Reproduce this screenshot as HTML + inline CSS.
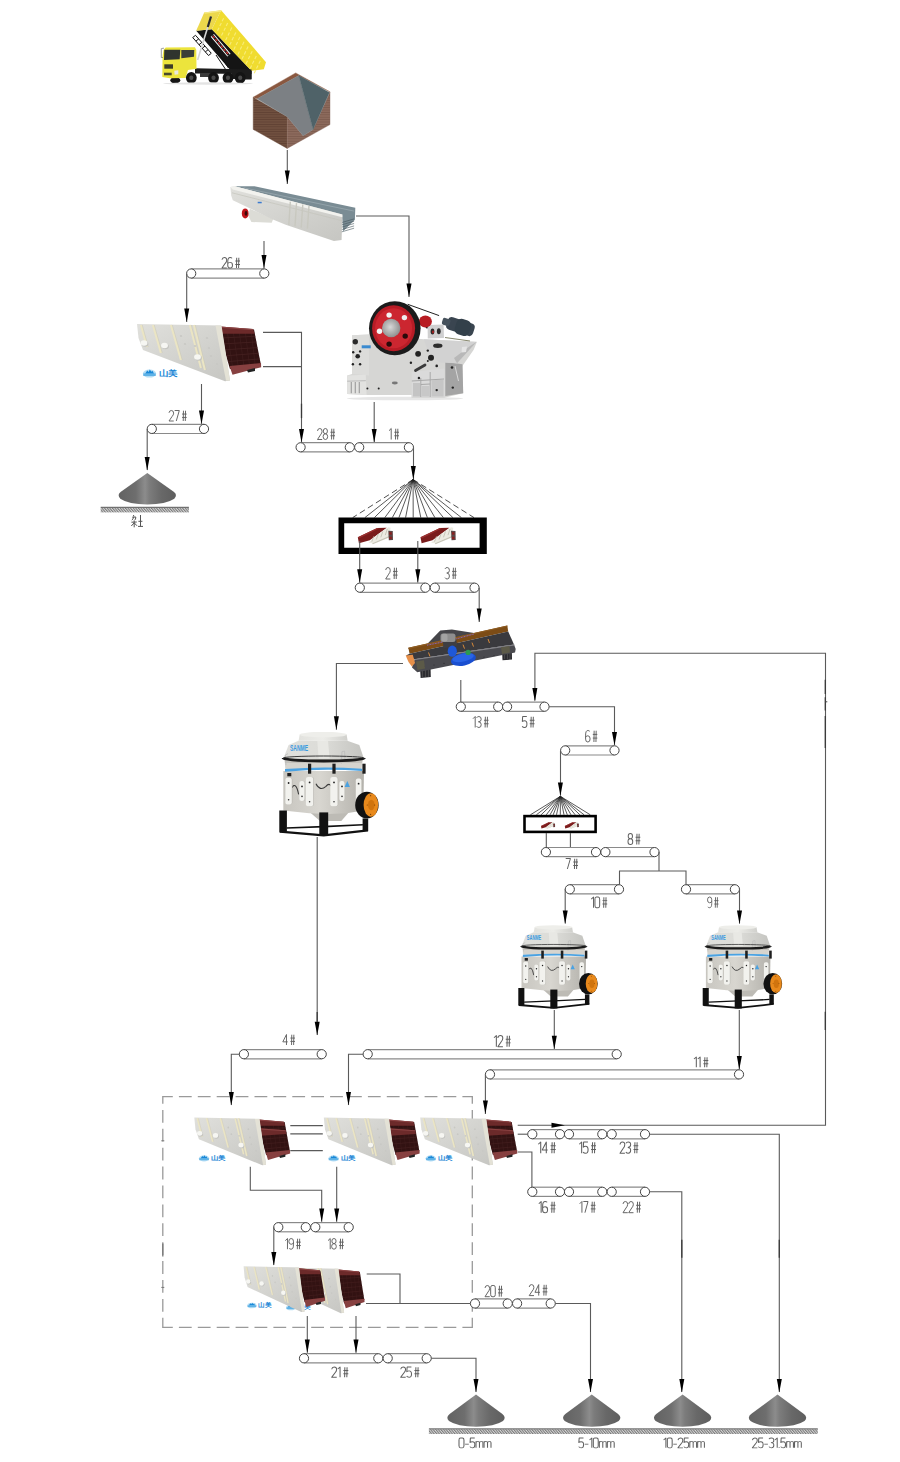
<!DOCTYPE html>
<html><head><meta charset="utf-8"><style>
html,body{margin:0;padding:0;background:#fff;}
body{width:900px;height:1462px;overflow:hidden;}
svg{display:block;font-family:"Liberation Sans",sans-serif;}
</style></head><body>
<svg width="900" height="1462" viewBox="0 0 900 1462">
<g stroke="#9a9a9a" stroke-width="1.3" stroke-dasharray="12.8,6.1" fill="none">
<line x1="162.8" y1="1096.7" x2="472.3" y2="1096.7" stroke-dashoffset="2.8"/>
<line x1="162.8" y1="1327.3" x2="472.3" y2="1327.3" stroke-dashoffset="2.8"/>
<line x1="162.8" y1="1096.1" x2="162.8" y2="1327.9" stroke-dashoffset="5.1"/>
<line x1="472.3" y1="1096.1" x2="472.3" y2="1327.9" stroke-dashoffset="5.1"/>
</g>
<path d="M161.3,1140.8 L164.3,1140.8 M161.3,1287.4 L164.3,1287.4" stroke="#777" stroke-width="1"/>
<line x1="162.8" y1="1243.6" x2="162.8" y2="1256.5" stroke="#777" stroke-width="1.3"/>
<defs>
<linearGradient id="plate" x1="0" y1="0" x2="1" y2="1"><stop offset="0" stop-color="#e0e0dc"/><stop offset="1" stop-color="#c6c6c2"/></linearGradient>
<linearGradient id="yel" x1="0" y1="0" x2="1" y2="1"><stop offset="0" stop-color="#f2e23a"/><stop offset="1" stop-color="#e6cc20"/></linearGradient>
<linearGradient id="brick1" x1="0" y1="0" x2="0" y2="1"><stop offset="0" stop-color="#6e4a3c"/><stop offset="1" stop-color="#684436"/></linearGradient>
<pattern id="bricks" width="4" height="2.4" patternUnits="userSpaceOnUse"><rect width="4" height="2.4" fill="#70503f"/><rect y="1.8" width="4" height="0.6" fill="#5a3c30"/></pattern>
<pattern id="bricks2" width="4" height="2.4" patternUnits="userSpaceOnUse"><rect width="4" height="2.4" fill="#8c6a5c"/><rect y="1.8" width="4" height="0.6" fill="#765649"/></pattern>
<linearGradient id="coneg" x1="0" y1="0" x2="1" y2="0"><stop offset="0" stop-color="#d8d8d4"/><stop offset="0.4" stop-color="#ecece8"/><stop offset="1" stop-color="#c8c8c4"/></linearGradient>
<radialGradient id="hub" cx="0.45" cy="0.45" r="0.6"><stop offset="0" stop-color="#d8d8d8"/><stop offset="1" stop-color="#8a8a8a"/></radialGradient>
<linearGradient id="coneBody" x1="0" x2="1" y1="0" y2="0"><stop offset="0" stop-color="#c8c6c0"/><stop offset="0.45" stop-color="#d8d6d0"/><stop offset="1" stop-color="#b4b2ac"/></linearGradient>
<linearGradient id="coneBowl" x1="0" x2="1" y1="0" y2="0"><stop offset="0" stop-color="#e0e0dc"/><stop offset="0.5" stop-color="#dcdcd8"/><stop offset="1" stop-color="#c4c4c0"/></linearGradient>
<linearGradient id="coneDome" x1="0" x2="1" y1="0" y2="0"><stop offset="0" stop-color="#e2e2de"/><stop offset="0.5" stop-color="#ecece8"/><stop offset="1" stop-color="#d0d0cc"/></linearGradient>
<clipPath id="scrInt" clipPathUnits="userSpaceOnUse"><polygon points="81,4 117,5.5 123.8,40.5 93,45"/></clipPath>
</defs>
<polygon points="196.2,30.7 211.8,29.3 251.5,70.7 251.5,79.5 236.0,79.5 230.9,70.7" fill="#141414" />
<polygon points="221.1,10.2 266.0,62.2 263.8,69.3 251.3,70.7 211.8,29.3" fill="#f0dc30" />
<line x1="223.6" y1="18.2" x2="222.1" y2="21.2" stroke="#f8ec78" stroke-width="1.1"/>
<line x1="221.3" y1="22.9" x2="219.8" y2="26.0" stroke="#f8ec78" stroke-width="1.1"/>
<line x1="219.0" y1="27.7" x2="217.5" y2="30.8" stroke="#f8ec78" stroke-width="1.1"/>
<line x1="227.7" y1="22.9" x2="226.2" y2="26.0" stroke="#f8ec78" stroke-width="1.1"/>
<line x1="225.4" y1="27.7" x2="223.9" y2="30.7" stroke="#f8ec78" stroke-width="1.1"/>
<line x1="223.0" y1="32.5" x2="221.5" y2="35.5" stroke="#f8ec78" stroke-width="1.1"/>
<line x1="231.8" y1="27.6" x2="230.3" y2="30.7" stroke="#f8ec78" stroke-width="1.1"/>
<line x1="229.4" y1="32.4" x2="228.0" y2="35.5" stroke="#f8ec78" stroke-width="1.1"/>
<line x1="227.1" y1="37.2" x2="225.6" y2="40.2" stroke="#f8ec78" stroke-width="1.1"/>
<line x1="235.8" y1="32.4" x2="234.4" y2="35.4" stroke="#f8ec78" stroke-width="1.1"/>
<line x1="233.5" y1="37.1" x2="232.0" y2="40.2" stroke="#f8ec78" stroke-width="1.1"/>
<line x1="231.2" y1="41.9" x2="229.7" y2="45.0" stroke="#f8ec78" stroke-width="1.1"/>
<line x1="239.9" y1="37.1" x2="238.4" y2="40.1" stroke="#f8ec78" stroke-width="1.1"/>
<line x1="237.6" y1="41.9" x2="236.1" y2="44.9" stroke="#f8ec78" stroke-width="1.1"/>
<line x1="235.3" y1="46.6" x2="233.8" y2="49.7" stroke="#f8ec78" stroke-width="1.1"/>
<line x1="244.0" y1="41.8" x2="242.5" y2="44.9" stroke="#f8ec78" stroke-width="1.1"/>
<line x1="241.7" y1="46.6" x2="240.2" y2="49.6" stroke="#f8ec78" stroke-width="1.1"/>
<line x1="239.4" y1="51.4" x2="237.9" y2="54.4" stroke="#f8ec78" stroke-width="1.1"/>
<line x1="248.1" y1="46.5" x2="246.6" y2="49.6" stroke="#f8ec78" stroke-width="1.1"/>
<line x1="245.8" y1="51.3" x2="244.3" y2="54.4" stroke="#f8ec78" stroke-width="1.1"/>
<line x1="243.4" y1="56.1" x2="242.0" y2="59.1" stroke="#f8ec78" stroke-width="1.1"/>
<line x1="252.2" y1="51.3" x2="250.7" y2="54.3" stroke="#f8ec78" stroke-width="1.1"/>
<line x1="249.8" y1="56.0" x2="248.4" y2="59.1" stroke="#f8ec78" stroke-width="1.1"/>
<line x1="247.5" y1="60.8" x2="246.0" y2="63.9" stroke="#f8ec78" stroke-width="1.1"/>
<line x1="256.3" y1="56.0" x2="254.8" y2="59.0" stroke="#f8ec78" stroke-width="1.1"/>
<line x1="253.9" y1="60.8" x2="252.4" y2="63.8" stroke="#f8ec78" stroke-width="1.1"/>
<line x1="251.6" y1="65.5" x2="250.1" y2="68.6" stroke="#f8ec78" stroke-width="1.1"/>
<line x1="260.3" y1="60.7" x2="258.8" y2="63.8" stroke="#f8ec78" stroke-width="1.1"/>
<line x1="258.0" y1="65.5" x2="256.5" y2="68.6" stroke="#f8ec78" stroke-width="1.1"/>
<line x1="255.7" y1="70.3" x2="254.2" y2="73.3" stroke="#f8ec78" stroke-width="1.1"/>
<polygon points="204.2,12.4 221.1,10.2 211.8,29.3 196.2,30.7" fill="#ecd84c" />
<polygon points="204.2,12.4 221.1,10.2 221.4,11.6 204.6,13.8" fill="#f6ea8a" />
<g stroke="#111" stroke-width="1" fill="none">
<path d="M192.7,37.5 L208.5,55.5 M195.5,35.3 L211.2,53.2"/>
<path d="M192.7,37.5 l2.8,-2.2"/>
<path d="M195.9,41.1 l2.8,-2.2"/>
<path d="M199.0,44.7 l2.8,-2.2"/>
<path d="M202.2,48.3 l2.8,-2.2"/>
<path d="M205.3,51.9 l2.8,-2.2"/>
<path d="M208.5,55.5 l2.8,-2.2"/>
<path d="M216,55 L226,70 M219,54 L228.5,68"/>
</g>
<line x1="212.3" y1="35.3" x2="229" y2="55.2" stroke="#fff" stroke-width="4.2"/>
<line x1="212.3" y1="35.3" x2="229" y2="55.2" stroke="#1a1a1a" stroke-width="2.4"/>
<line x1="212.8" y1="35.9" x2="228.5" y2="54.6" stroke="#d82424" stroke-width="1.2" stroke-dasharray="2.6,1.6"/>
<line x1="211" y1="16.5" x2="197.6" y2="60" stroke="#d6d6d6" stroke-width="1.6"/>
<line x1="211" y1="16.5" x2="207.8" y2="27" stroke="#2a2a2a" stroke-width="2.2"/>
<polygon points="195.0,68.3 251.5,69.5 251.5,74.0 195.0,73.5" fill="#1c1c1c" />
<polygon points="200.0,73.0 212.0,73.0 212.0,77.0 200.0,77.0" fill="#3a3a3a" />
<polygon points="232.0,71.0 251.5,71.0 251.5,79.0 232.0,79.0" fill="#1c1c1c" />
<ellipse cx="175.3" cy="80.2" rx="5" ry="3.2" fill="#151515"/>
<polygon points="165.7,47.5 195.0,47.2 196.3,50.0 196.5,68.7 188.0,70.0 185.5,78.0 170.0,78.3 162.3,77.0 162.6,56.0 163.5,50.0" fill="#ece43c" />
<polygon points="164.3,49.7 180.3,49.7 179.7,59.3 164.0,60.0" fill="#30342e" />
<polygon points="181.3,50.0 194.3,50.0 194.0,56.7 181.3,58.3" fill="#3a3f38" />
<polygon points="164.3,64.3 173.0,64.3 173.0,68.7 164.3,68.7" fill="#3c3c28" />
<polygon points="164.0,72.7 171.7,72.7 171.7,75.3 164.0,75.3" fill="#4a4a2a" />
<polygon points="174.3,70.7 178.3,70.3 178.3,74.3 174.6,74.7" fill="#e8e8e0" />
<path d="M161.5,48.5 L164,48.2 M161.3,48.5 L161.3,57.5 L163,57.5" stroke="#777" stroke-width="0.7" fill="none"/>
<ellipse cx="191.3" cy="77.8" rx="5.4" ry="5.8" fill="#141414"/>
<ellipse cx="191.3" cy="77.8" rx="2.1" ry="2.3" fill="#4a4a4a"/>
<ellipse cx="213.5" cy="77.8" rx="5.4" ry="5.8" fill="#141414"/>
<ellipse cx="213.5" cy="77.8" rx="2.1" ry="2.3" fill="#4a4a4a"/>
<ellipse cx="228" cy="77.8" rx="5.4" ry="5.8" fill="#141414"/>
<ellipse cx="228" cy="77.8" rx="2.1" ry="2.3" fill="#4a4a4a"/>
<ellipse cx="240.2" cy="77.8" rx="5.4" ry="5.8" fill="#141414"/>
<ellipse cx="240.2" cy="77.8" rx="2.1" ry="2.3" fill="#4a4a4a"/>
<ellipse cx="208" cy="83.5" rx="45" ry="1.2" fill="#e4e4e4"/>
<polygon points="253.2,97.2 287.2,116.7 287.2,148.4 253.2,129.4" fill="url(#bricks)" stroke="#6a4838" stroke-width="0.4"/>
<polygon points="287.2,116.7 303.1,135.7 313.1,129.4 330.0,91.9 330.0,124.6 287.2,148.4" fill="url(#bricks2)" stroke="#86665a" stroke-width="0.4"/>
<polygon points="253.2,97.2 295.7,72.9 330.0,91.9 298.8,75.6 257.1,98.8" fill="#8a5840" stroke="#8a5840" stroke-width="0.4"/>
<polygon points="257.1,98.8 298.8,75.6 313.1,129.4 303.1,135.7 287.2,116.7" fill="#7c8084" stroke="#7c8084" stroke-width="0.4"/>
<polygon points="298.8,75.6 329.4,92.4 313.1,129.4" fill="#4f6268" stroke="#4f6268" stroke-width="0.4"/>
<polygon points="234.3,186.2 254.5,186.2 355.3,207.7 354.9,219.7 343.2,231.3 342.0,215.5" fill="#7a8c94" />
<line x1="243.7" y1="187.8" x2="354.1" y2="211.1" stroke="#93a3aa" stroke-width="1"/>
<line x1="340.9" y1="222.8" x2="354.1" y2="218.9" stroke="#44555c" stroke-width="0.6"/>
<line x1="340.9" y1="225.1" x2="354.1" y2="221.2" stroke="#44555c" stroke-width="0.6"/>
<line x1="340.9" y1="227.4" x2="354.1" y2="223.5" stroke="#44555c" stroke-width="0.6"/>
<line x1="340.9" y1="229.8" x2="354.1" y2="225.9" stroke="#44555c" stroke-width="0.6"/>
<line x1="340.9" y1="232.1" x2="354.1" y2="228.2" stroke="#44555c" stroke-width="0.6"/>
<polygon points="249.9,208.8 273.2,218.9 271.7,222.8 251.4,222.0 248.3,215.8" fill="#dcdcd6" />
<ellipse cx="245.2" cy="213.4" rx="3.4" ry="5" fill="#c0141a"/>
<ellipse cx="246.0" cy="213.4" rx="1.4" ry="2.4" fill="#3a0808"/>
<polygon points="230.4,187.0 234.6,186.2 342.4,214.5 341.6,239.9 333.9,241.0 285.7,224.8 271.7,218.9 232.8,200.2 231.2,195.6" fill="url(#plate)" />
<polygon points="230.4,187.0 234.6,186.2 342.4,214.5 342.4,217.3 232.8,189.6" fill="#f2f2ee" />
<line x1="232.0" y1="192.8" x2="342.0" y2="220.7" stroke="#c4c4bc" stroke-width="0.7"/>
<line x1="290.3" y1="201.8" x2="288.8" y2="225.1" stroke="#c8c8c0" stroke-width="1.4"/>
<line x1="296.5" y1="203.1" x2="295.0" y2="226.3" stroke="#c8c8c0" stroke-width="1.4"/>
<line x1="302.8" y1="204.5" x2="301.2" y2="227.6" stroke="#c8c8c0" stroke-width="1.4"/>
<line x1="309.0" y1="205.9" x2="307.4" y2="228.8" stroke="#c8c8c0" stroke-width="1.4"/>
<rect x="257.7" y="201.8" width="4" height="1.5" fill="#3a7ad0"/>
<g transform="translate(137,324) scale(1.0,1.0)">
<polygon points="81,4 117,5.5 123.8,40.5 93,45" fill="#321212"/>
<g clip-path="url(#scrInt)">
<line x1="84.0" y1="14" x2="124.0" y2="12.0" stroke="#4e2626" stroke-width="0.6"/>
<line x1="84.6" y1="20" x2="125.1" y2="17.6" stroke="#4e2626" stroke-width="0.6"/>
<line x1="85.2" y1="26" x2="126.2" y2="23.2" stroke="#4e2626" stroke-width="0.6"/>
<line x1="85.8" y1="32" x2="127.3" y2="28.799999999999997" stroke="#4e2626" stroke-width="0.6"/>
<line x1="86.4" y1="38" x2="128.4" y2="34.4" stroke="#4e2626" stroke-width="0.6"/>
<line x1="90" y1="6" x2="96.0" y2="46.0" stroke="#442222" stroke-width="0.5"/>
<line x1="96" y1="6" x2="101.6" y2="45.2" stroke="#442222" stroke-width="0.5"/>
<line x1="102" y1="6" x2="107.2" y2="44.4" stroke="#442222" stroke-width="0.5"/>
<line x1="108" y1="6" x2="112.8" y2="43.6" stroke="#442222" stroke-width="0.5"/>
<line x1="114" y1="6" x2="118.4" y2="42.8" stroke="#442222" stroke-width="0.5"/>
<line x1="120" y1="6" x2="124.0" y2="42.0" stroke="#442222" stroke-width="0.5"/>
</g>
<polygon points="80,2.2 116,5 117.6,9.8 83.5,9.8" fill="#6c2a2a"/>
<polygon points="80,2.2 116,5 116.3,6.2 80.5,3.6" fill="#8a4242"/>
<polygon points="92.5,42 124,39 124.2,43.2 95.5,50.8" fill="#874040"/>
<polygon points="110,46 118,44 118,47 111,48.5" fill="#222"/>
<polygon points="0,0 84,1.6 93,56.5 88,57.2 6,26 1.5,14" fill="url(#plate)"/>
<polygon points="78.5,1.4 84.5,1.6 93,56.5 89,56.8" fill="#e4e2d6"/>
<line x1="4" y1="1" x2="10" y2="23" stroke="#ebe5c4" stroke-width="2.2"/>
<line x1="5.3" y1="1" x2="11.3" y2="23" stroke="#c9c6b4" stroke-width="0.5"/>
<line x1="16" y1="1" x2="24" y2="29" stroke="#ebe5c4" stroke-width="2.2"/>
<line x1="17.3" y1="1" x2="25.3" y2="29" stroke="#c9c6b4" stroke-width="0.5"/>
<line x1="34" y1="1" x2="44" y2="36" stroke="#ebe5c4" stroke-width="2.2"/>
<line x1="35.3" y1="1" x2="45.3" y2="36" stroke="#c9c6b4" stroke-width="0.5"/>
<line x1="53" y1="1" x2="64" y2="44" stroke="#ebe5c4" stroke-width="2.2"/>
<line x1="54.3" y1="1" x2="65.3" y2="44" stroke="#c9c6b4" stroke-width="0.5"/>
<line x1="57" y1="1" x2="68" y2="46" stroke="#ebe5c4" stroke-width="2.2"/>
<line x1="58.3" y1="1" x2="69.3" y2="46" stroke="#c9c6b4" stroke-width="0.5"/>
<ellipse cx="8" cy="20" rx="3.4" ry="2.8" fill="#c4c4c0"/>
<ellipse cx="7" cy="19" rx="3.4" ry="2.8" fill="#f6f6f2"/>
<ellipse cx="28.5" cy="22.5" rx="3.4" ry="2.8" fill="#c4c4c0"/>
<ellipse cx="27.5" cy="21.5" rx="3.4" ry="2.8" fill="#f6f6f2"/>
<ellipse cx="61.5" cy="34" rx="3.4" ry="2.8" fill="#c4c4c0"/>
<ellipse cx="60.5" cy="33" rx="3.4" ry="2.8" fill="#f6f6f2"/>
<ellipse cx="44" cy="12" rx="1.1" ry="1.1" fill="#c8c8c4"/>
<ellipse cx="48" cy="20" rx="1.1" ry="1.1" fill="#c8c8c4"/>
<ellipse cx="70" cy="14" rx="1.1" ry="1.1" fill="#c8c8c4"/>
<ellipse cx="72" cy="24" rx="1.1" ry="1.1" fill="#c8c8c4"/>
<ellipse cx="74" cy="32" rx="1.1" ry="1.1" fill="#c8c8c4"/>
<ellipse cx="80" cy="40" rx="1.1" ry="1.1" fill="#c8c8c4"/>
<ellipse cx="58" cy="22" rx="1.1" ry="1.1" fill="#c8c8c4"/>
</g>
<g transform="translate(143.0,368.4) scale(1.0)">
<ellipse cx="6.5" cy="5.2" rx="6.6" ry="4" fill="#b6ddf4"/>
<rect x="0.3" y="5" width="12.4" height="2.6" fill="#5fb2e6"/>
<path d="M2.2,5 L4.3,2.2 L5.6,3.6 L6.8,1.2 L8.4,3.4 L9.4,2.4 L11,5 Z" fill="#1888d8"/>
<text x="15.5" y="7.6" font-size="8.2" font-weight="bold" fill="#1a86d6" font-family="Liberation Sans, sans-serif" textLength="19" lengthAdjust="spacingAndGlyphs">山美</text>
</g>
<g transform="translate(194.3,1117.5) scale(0.772,0.835)">
<polygon points="81,4 117,5.5 123.8,40.5 93,45" fill="#321212"/>
<g clip-path="url(#scrInt)">
<line x1="84.0" y1="14" x2="124.0" y2="12.0" stroke="#4e2626" stroke-width="0.6"/>
<line x1="84.6" y1="20" x2="125.1" y2="17.6" stroke="#4e2626" stroke-width="0.6"/>
<line x1="85.2" y1="26" x2="126.2" y2="23.2" stroke="#4e2626" stroke-width="0.6"/>
<line x1="85.8" y1="32" x2="127.3" y2="28.799999999999997" stroke="#4e2626" stroke-width="0.6"/>
<line x1="86.4" y1="38" x2="128.4" y2="34.4" stroke="#4e2626" stroke-width="0.6"/>
<line x1="90" y1="6" x2="96.0" y2="46.0" stroke="#442222" stroke-width="0.5"/>
<line x1="96" y1="6" x2="101.6" y2="45.2" stroke="#442222" stroke-width="0.5"/>
<line x1="102" y1="6" x2="107.2" y2="44.4" stroke="#442222" stroke-width="0.5"/>
<line x1="108" y1="6" x2="112.8" y2="43.6" stroke="#442222" stroke-width="0.5"/>
<line x1="114" y1="6" x2="118.4" y2="42.8" stroke="#442222" stroke-width="0.5"/>
<line x1="120" y1="6" x2="124.0" y2="42.0" stroke="#442222" stroke-width="0.5"/>
</g>
<polygon points="80,2.2 116,5 117.6,9.8 83.5,9.8" fill="#6c2a2a"/>
<polygon points="80,2.2 116,5 116.3,6.2 80.5,3.6" fill="#8a4242"/>
<polygon points="83.5,13 118.4,15.2 119.3,19.8 86,21.8" fill="#6c2a2a"/>
<polygon points="83.5,13 118.4,15.2 118.6,16.4 84,14.4" fill="#8a4242"/>
<polygon points="92.5,42 124,39 124.2,43.2 95.5,50.8" fill="#874040"/>
<polygon points="110,46 118,44 118,47 111,48.5" fill="#222"/>
<polygon points="0,0 84,1.6 93,56.5 88,57.2 6,26 1.5,14" fill="url(#plate)"/>
<polygon points="78.5,1.4 84.5,1.6 93,56.5 89,56.8" fill="#e4e2d6"/>
<line x1="4" y1="1" x2="10" y2="23" stroke="#ebe5c4" stroke-width="2.2"/>
<line x1="5.3" y1="1" x2="11.3" y2="23" stroke="#c9c6b4" stroke-width="0.5"/>
<line x1="16" y1="1" x2="24" y2="29" stroke="#ebe5c4" stroke-width="2.2"/>
<line x1="17.3" y1="1" x2="25.3" y2="29" stroke="#c9c6b4" stroke-width="0.5"/>
<line x1="34" y1="1" x2="44" y2="36" stroke="#ebe5c4" stroke-width="2.2"/>
<line x1="35.3" y1="1" x2="45.3" y2="36" stroke="#c9c6b4" stroke-width="0.5"/>
<line x1="53" y1="1" x2="64" y2="44" stroke="#ebe5c4" stroke-width="2.2"/>
<line x1="54.3" y1="1" x2="65.3" y2="44" stroke="#c9c6b4" stroke-width="0.5"/>
<line x1="57" y1="1" x2="68" y2="46" stroke="#ebe5c4" stroke-width="2.2"/>
<line x1="58.3" y1="1" x2="69.3" y2="46" stroke="#c9c6b4" stroke-width="0.5"/>
<ellipse cx="8" cy="20" rx="3.4" ry="2.8" fill="#c4c4c0"/>
<ellipse cx="7" cy="19" rx="3.4" ry="2.8" fill="#f6f6f2"/>
<ellipse cx="28.5" cy="22.5" rx="3.4" ry="2.8" fill="#c4c4c0"/>
<ellipse cx="27.5" cy="21.5" rx="3.4" ry="2.8" fill="#f6f6f2"/>
<ellipse cx="61.5" cy="34" rx="3.4" ry="2.8" fill="#c4c4c0"/>
<ellipse cx="60.5" cy="33" rx="3.4" ry="2.8" fill="#f6f6f2"/>
<ellipse cx="44" cy="12" rx="1.1" ry="1.1" fill="#c8c8c4"/>
<ellipse cx="48" cy="20" rx="1.1" ry="1.1" fill="#c8c8c4"/>
<ellipse cx="70" cy="14" rx="1.1" ry="1.1" fill="#c8c8c4"/>
<ellipse cx="72" cy="24" rx="1.1" ry="1.1" fill="#c8c8c4"/>
<ellipse cx="74" cy="32" rx="1.1" ry="1.1" fill="#c8c8c4"/>
<ellipse cx="80" cy="40" rx="1.1" ry="1.1" fill="#c8c8c4"/>
<ellipse cx="58" cy="22" rx="1.1" ry="1.1" fill="#c8c8c4"/>
</g>
<g transform="translate(199,1154.3) scale(0.78)">
<ellipse cx="6.5" cy="5.2" rx="6.6" ry="4" fill="#b6ddf4"/>
<rect x="0.3" y="5" width="12.4" height="2.6" fill="#5fb2e6"/>
<path d="M2.2,5 L4.3,2.2 L5.6,3.6 L6.8,1.2 L8.4,3.4 L9.4,2.4 L11,5 Z" fill="#1888d8"/>
<text x="15.5" y="7.6" font-size="8.2" font-weight="bold" fill="#1a86d6" font-family="Liberation Sans, sans-serif" textLength="19" lengthAdjust="spacingAndGlyphs">山美</text>
</g>
<g transform="translate(323.8,1117.5) scale(0.772,0.835)">
<polygon points="81,4 117,5.5 123.8,40.5 93,45" fill="#321212"/>
<g clip-path="url(#scrInt)">
<line x1="84.0" y1="14" x2="124.0" y2="12.0" stroke="#4e2626" stroke-width="0.6"/>
<line x1="84.6" y1="20" x2="125.1" y2="17.6" stroke="#4e2626" stroke-width="0.6"/>
<line x1="85.2" y1="26" x2="126.2" y2="23.2" stroke="#4e2626" stroke-width="0.6"/>
<line x1="85.8" y1="32" x2="127.3" y2="28.799999999999997" stroke="#4e2626" stroke-width="0.6"/>
<line x1="86.4" y1="38" x2="128.4" y2="34.4" stroke="#4e2626" stroke-width="0.6"/>
<line x1="90" y1="6" x2="96.0" y2="46.0" stroke="#442222" stroke-width="0.5"/>
<line x1="96" y1="6" x2="101.6" y2="45.2" stroke="#442222" stroke-width="0.5"/>
<line x1="102" y1="6" x2="107.2" y2="44.4" stroke="#442222" stroke-width="0.5"/>
<line x1="108" y1="6" x2="112.8" y2="43.6" stroke="#442222" stroke-width="0.5"/>
<line x1="114" y1="6" x2="118.4" y2="42.8" stroke="#442222" stroke-width="0.5"/>
<line x1="120" y1="6" x2="124.0" y2="42.0" stroke="#442222" stroke-width="0.5"/>
</g>
<polygon points="80,2.2 116,5 117.6,9.8 83.5,9.8" fill="#6c2a2a"/>
<polygon points="80,2.2 116,5 116.3,6.2 80.5,3.6" fill="#8a4242"/>
<polygon points="83.5,13 118.4,15.2 119.3,19.8 86,21.8" fill="#6c2a2a"/>
<polygon points="83.5,13 118.4,15.2 118.6,16.4 84,14.4" fill="#8a4242"/>
<polygon points="92.5,42 124,39 124.2,43.2 95.5,50.8" fill="#874040"/>
<polygon points="110,46 118,44 118,47 111,48.5" fill="#222"/>
<polygon points="0,0 84,1.6 93,56.5 88,57.2 6,26 1.5,14" fill="url(#plate)"/>
<polygon points="78.5,1.4 84.5,1.6 93,56.5 89,56.8" fill="#e4e2d6"/>
<line x1="4" y1="1" x2="10" y2="23" stroke="#ebe5c4" stroke-width="2.2"/>
<line x1="5.3" y1="1" x2="11.3" y2="23" stroke="#c9c6b4" stroke-width="0.5"/>
<line x1="16" y1="1" x2="24" y2="29" stroke="#ebe5c4" stroke-width="2.2"/>
<line x1="17.3" y1="1" x2="25.3" y2="29" stroke="#c9c6b4" stroke-width="0.5"/>
<line x1="34" y1="1" x2="44" y2="36" stroke="#ebe5c4" stroke-width="2.2"/>
<line x1="35.3" y1="1" x2="45.3" y2="36" stroke="#c9c6b4" stroke-width="0.5"/>
<line x1="53" y1="1" x2="64" y2="44" stroke="#ebe5c4" stroke-width="2.2"/>
<line x1="54.3" y1="1" x2="65.3" y2="44" stroke="#c9c6b4" stroke-width="0.5"/>
<line x1="57" y1="1" x2="68" y2="46" stroke="#ebe5c4" stroke-width="2.2"/>
<line x1="58.3" y1="1" x2="69.3" y2="46" stroke="#c9c6b4" stroke-width="0.5"/>
<ellipse cx="8" cy="20" rx="3.4" ry="2.8" fill="#c4c4c0"/>
<ellipse cx="7" cy="19" rx="3.4" ry="2.8" fill="#f6f6f2"/>
<ellipse cx="28.5" cy="22.5" rx="3.4" ry="2.8" fill="#c4c4c0"/>
<ellipse cx="27.5" cy="21.5" rx="3.4" ry="2.8" fill="#f6f6f2"/>
<ellipse cx="61.5" cy="34" rx="3.4" ry="2.8" fill="#c4c4c0"/>
<ellipse cx="60.5" cy="33" rx="3.4" ry="2.8" fill="#f6f6f2"/>
<ellipse cx="44" cy="12" rx="1.1" ry="1.1" fill="#c8c8c4"/>
<ellipse cx="48" cy="20" rx="1.1" ry="1.1" fill="#c8c8c4"/>
<ellipse cx="70" cy="14" rx="1.1" ry="1.1" fill="#c8c8c4"/>
<ellipse cx="72" cy="24" rx="1.1" ry="1.1" fill="#c8c8c4"/>
<ellipse cx="74" cy="32" rx="1.1" ry="1.1" fill="#c8c8c4"/>
<ellipse cx="80" cy="40" rx="1.1" ry="1.1" fill="#c8c8c4"/>
<ellipse cx="58" cy="22" rx="1.1" ry="1.1" fill="#c8c8c4"/>
</g>
<g transform="translate(328.5,1154.3) scale(0.78)">
<ellipse cx="6.5" cy="5.2" rx="6.6" ry="4" fill="#b6ddf4"/>
<rect x="0.3" y="5" width="12.4" height="2.6" fill="#5fb2e6"/>
<path d="M2.2,5 L4.3,2.2 L5.6,3.6 L6.8,1.2 L8.4,3.4 L9.4,2.4 L11,5 Z" fill="#1888d8"/>
<text x="15.5" y="7.6" font-size="8.2" font-weight="bold" fill="#1a86d6" font-family="Liberation Sans, sans-serif" textLength="19" lengthAdjust="spacingAndGlyphs">山美</text>
</g>
<g transform="translate(420.2,1117.5) scale(0.782,0.835)">
<polygon points="81,4 117,5.5 123.8,40.5 93,45" fill="#321212"/>
<g clip-path="url(#scrInt)">
<line x1="84.0" y1="14" x2="124.0" y2="12.0" stroke="#4e2626" stroke-width="0.6"/>
<line x1="84.6" y1="20" x2="125.1" y2="17.6" stroke="#4e2626" stroke-width="0.6"/>
<line x1="85.2" y1="26" x2="126.2" y2="23.2" stroke="#4e2626" stroke-width="0.6"/>
<line x1="85.8" y1="32" x2="127.3" y2="28.799999999999997" stroke="#4e2626" stroke-width="0.6"/>
<line x1="86.4" y1="38" x2="128.4" y2="34.4" stroke="#4e2626" stroke-width="0.6"/>
<line x1="90" y1="6" x2="96.0" y2="46.0" stroke="#442222" stroke-width="0.5"/>
<line x1="96" y1="6" x2="101.6" y2="45.2" stroke="#442222" stroke-width="0.5"/>
<line x1="102" y1="6" x2="107.2" y2="44.4" stroke="#442222" stroke-width="0.5"/>
<line x1="108" y1="6" x2="112.8" y2="43.6" stroke="#442222" stroke-width="0.5"/>
<line x1="114" y1="6" x2="118.4" y2="42.8" stroke="#442222" stroke-width="0.5"/>
<line x1="120" y1="6" x2="124.0" y2="42.0" stroke="#442222" stroke-width="0.5"/>
</g>
<polygon points="80,2.2 116,5 117.6,9.8 83.5,9.8" fill="#6c2a2a"/>
<polygon points="80,2.2 116,5 116.3,6.2 80.5,3.6" fill="#8a4242"/>
<polygon points="83.5,13 118.4,15.2 119.3,19.8 86,21.8" fill="#6c2a2a"/>
<polygon points="83.5,13 118.4,15.2 118.6,16.4 84,14.4" fill="#8a4242"/>
<polygon points="92.5,42 124,39 124.2,43.2 95.5,50.8" fill="#874040"/>
<polygon points="110,46 118,44 118,47 111,48.5" fill="#222"/>
<polygon points="0,0 84,1.6 93,56.5 88,57.2 6,26 1.5,14" fill="url(#plate)"/>
<polygon points="78.5,1.4 84.5,1.6 93,56.5 89,56.8" fill="#e4e2d6"/>
<line x1="4" y1="1" x2="10" y2="23" stroke="#ebe5c4" stroke-width="2.2"/>
<line x1="5.3" y1="1" x2="11.3" y2="23" stroke="#c9c6b4" stroke-width="0.5"/>
<line x1="16" y1="1" x2="24" y2="29" stroke="#ebe5c4" stroke-width="2.2"/>
<line x1="17.3" y1="1" x2="25.3" y2="29" stroke="#c9c6b4" stroke-width="0.5"/>
<line x1="34" y1="1" x2="44" y2="36" stroke="#ebe5c4" stroke-width="2.2"/>
<line x1="35.3" y1="1" x2="45.3" y2="36" stroke="#c9c6b4" stroke-width="0.5"/>
<line x1="53" y1="1" x2="64" y2="44" stroke="#ebe5c4" stroke-width="2.2"/>
<line x1="54.3" y1="1" x2="65.3" y2="44" stroke="#c9c6b4" stroke-width="0.5"/>
<line x1="57" y1="1" x2="68" y2="46" stroke="#ebe5c4" stroke-width="2.2"/>
<line x1="58.3" y1="1" x2="69.3" y2="46" stroke="#c9c6b4" stroke-width="0.5"/>
<ellipse cx="8" cy="20" rx="3.4" ry="2.8" fill="#c4c4c0"/>
<ellipse cx="7" cy="19" rx="3.4" ry="2.8" fill="#f6f6f2"/>
<ellipse cx="28.5" cy="22.5" rx="3.4" ry="2.8" fill="#c4c4c0"/>
<ellipse cx="27.5" cy="21.5" rx="3.4" ry="2.8" fill="#f6f6f2"/>
<ellipse cx="61.5" cy="34" rx="3.4" ry="2.8" fill="#c4c4c0"/>
<ellipse cx="60.5" cy="33" rx="3.4" ry="2.8" fill="#f6f6f2"/>
<ellipse cx="44" cy="12" rx="1.1" ry="1.1" fill="#c8c8c4"/>
<ellipse cx="48" cy="20" rx="1.1" ry="1.1" fill="#c8c8c4"/>
<ellipse cx="70" cy="14" rx="1.1" ry="1.1" fill="#c8c8c4"/>
<ellipse cx="72" cy="24" rx="1.1" ry="1.1" fill="#c8c8c4"/>
<ellipse cx="74" cy="32" rx="1.1" ry="1.1" fill="#c8c8c4"/>
<ellipse cx="80" cy="40" rx="1.1" ry="1.1" fill="#c8c8c4"/>
<ellipse cx="58" cy="22" rx="1.1" ry="1.1" fill="#c8c8c4"/>
</g>
<g transform="translate(425.7,1154.3) scale(0.78)">
<ellipse cx="6.5" cy="5.2" rx="6.6" ry="4" fill="#b6ddf4"/>
<rect x="0.3" y="5" width="12.4" height="2.6" fill="#5fb2e6"/>
<path d="M2.2,5 L4.3,2.2 L5.6,3.6 L6.8,1.2 L8.4,3.4 L9.4,2.4 L11,5 Z" fill="#1888d8"/>
<text x="15.5" y="7.6" font-size="8.2" font-weight="bold" fill="#1a86d6" font-family="Liberation Sans, sans-serif" textLength="19" lengthAdjust="spacingAndGlyphs">山美</text>
</g>
<g transform="translate(283.1,1267.5) scale(0.656,0.8)">
<polygon points="81,4 117,5.5 123.8,40.5 93,45" fill="#321212"/>
<g clip-path="url(#scrInt)">
<line x1="84.0" y1="14" x2="124.0" y2="12.0" stroke="#4e2626" stroke-width="0.6"/>
<line x1="84.6" y1="20" x2="125.1" y2="17.6" stroke="#4e2626" stroke-width="0.6"/>
<line x1="85.2" y1="26" x2="126.2" y2="23.2" stroke="#4e2626" stroke-width="0.6"/>
<line x1="85.8" y1="32" x2="127.3" y2="28.799999999999997" stroke="#4e2626" stroke-width="0.6"/>
<line x1="86.4" y1="38" x2="128.4" y2="34.4" stroke="#4e2626" stroke-width="0.6"/>
<line x1="90" y1="6" x2="96.0" y2="46.0" stroke="#442222" stroke-width="0.5"/>
<line x1="96" y1="6" x2="101.6" y2="45.2" stroke="#442222" stroke-width="0.5"/>
<line x1="102" y1="6" x2="107.2" y2="44.4" stroke="#442222" stroke-width="0.5"/>
<line x1="108" y1="6" x2="112.8" y2="43.6" stroke="#442222" stroke-width="0.5"/>
<line x1="114" y1="6" x2="118.4" y2="42.8" stroke="#442222" stroke-width="0.5"/>
<line x1="120" y1="6" x2="124.0" y2="42.0" stroke="#442222" stroke-width="0.5"/>
</g>
<polygon points="80,2.2 116,5 117.6,9.8 83.5,9.8" fill="#6c2a2a"/>
<polygon points="80,2.2 116,5 116.3,6.2 80.5,3.6" fill="#8a4242"/>
<polygon points="92.5,42 124,39 124.2,43.2 95.5,50.8" fill="#874040"/>
<polygon points="110,46 118,44 118,47 111,48.5" fill="#222"/>
<polygon points="0,0 84,1.6 93,56.5 88,57.2 6,26 1.5,14" fill="url(#plate)"/>
<polygon points="78.5,1.4 84.5,1.6 93,56.5 89,56.8" fill="#e4e2d6"/>
<line x1="4" y1="1" x2="10" y2="23" stroke="#ebe5c4" stroke-width="2.2"/>
<line x1="5.3" y1="1" x2="11.3" y2="23" stroke="#c9c6b4" stroke-width="0.5"/>
<line x1="16" y1="1" x2="24" y2="29" stroke="#ebe5c4" stroke-width="2.2"/>
<line x1="17.3" y1="1" x2="25.3" y2="29" stroke="#c9c6b4" stroke-width="0.5"/>
<line x1="34" y1="1" x2="44" y2="36" stroke="#ebe5c4" stroke-width="2.2"/>
<line x1="35.3" y1="1" x2="45.3" y2="36" stroke="#c9c6b4" stroke-width="0.5"/>
<line x1="53" y1="1" x2="64" y2="44" stroke="#ebe5c4" stroke-width="2.2"/>
<line x1="54.3" y1="1" x2="65.3" y2="44" stroke="#c9c6b4" stroke-width="0.5"/>
<line x1="57" y1="1" x2="68" y2="46" stroke="#ebe5c4" stroke-width="2.2"/>
<line x1="58.3" y1="1" x2="69.3" y2="46" stroke="#c9c6b4" stroke-width="0.5"/>
<ellipse cx="8" cy="20" rx="3.4" ry="2.8" fill="#c4c4c0"/>
<ellipse cx="7" cy="19" rx="3.4" ry="2.8" fill="#f6f6f2"/>
<ellipse cx="28.5" cy="22.5" rx="3.4" ry="2.8" fill="#c4c4c0"/>
<ellipse cx="27.5" cy="21.5" rx="3.4" ry="2.8" fill="#f6f6f2"/>
<ellipse cx="61.5" cy="34" rx="3.4" ry="2.8" fill="#c4c4c0"/>
<ellipse cx="60.5" cy="33" rx="3.4" ry="2.8" fill="#f6f6f2"/>
<ellipse cx="44" cy="12" rx="1.1" ry="1.1" fill="#c8c8c4"/>
<ellipse cx="48" cy="20" rx="1.1" ry="1.1" fill="#c8c8c4"/>
<ellipse cx="70" cy="14" rx="1.1" ry="1.1" fill="#c8c8c4"/>
<ellipse cx="72" cy="24" rx="1.1" ry="1.1" fill="#c8c8c4"/>
<ellipse cx="74" cy="32" rx="1.1" ry="1.1" fill="#c8c8c4"/>
<ellipse cx="80" cy="40" rx="1.1" ry="1.1" fill="#c8c8c4"/>
<ellipse cx="58" cy="22" rx="1.1" ry="1.1" fill="#c8c8c4"/>
</g>
<g transform="translate(286.3,1303.8) scale(0.7)">
<ellipse cx="6.5" cy="5.2" rx="6.6" ry="4" fill="#b6ddf4"/>
<rect x="0.3" y="5" width="12.4" height="2.6" fill="#5fb2e6"/>
<path d="M2.2,5 L4.3,2.2 L5.6,3.6 L6.8,1.2 L8.4,3.4 L9.4,2.4 L11,5 Z" fill="#1888d8"/>
<text x="15.5" y="7.6" font-size="8.2" font-weight="bold" fill="#1a86d6" font-family="Liberation Sans, sans-serif" textLength="19" lengthAdjust="spacingAndGlyphs">山美</text>
</g>
<g transform="translate(243.6,1266.3) scale(0.656,0.8)">
<polygon points="81,4 117,5.5 123.8,40.5 93,45" fill="#321212"/>
<g clip-path="url(#scrInt)">
<line x1="84.0" y1="14" x2="124.0" y2="12.0" stroke="#4e2626" stroke-width="0.6"/>
<line x1="84.6" y1="20" x2="125.1" y2="17.6" stroke="#4e2626" stroke-width="0.6"/>
<line x1="85.2" y1="26" x2="126.2" y2="23.2" stroke="#4e2626" stroke-width="0.6"/>
<line x1="85.8" y1="32" x2="127.3" y2="28.799999999999997" stroke="#4e2626" stroke-width="0.6"/>
<line x1="86.4" y1="38" x2="128.4" y2="34.4" stroke="#4e2626" stroke-width="0.6"/>
<line x1="90" y1="6" x2="96.0" y2="46.0" stroke="#442222" stroke-width="0.5"/>
<line x1="96" y1="6" x2="101.6" y2="45.2" stroke="#442222" stroke-width="0.5"/>
<line x1="102" y1="6" x2="107.2" y2="44.4" stroke="#442222" stroke-width="0.5"/>
<line x1="108" y1="6" x2="112.8" y2="43.6" stroke="#442222" stroke-width="0.5"/>
<line x1="114" y1="6" x2="118.4" y2="42.8" stroke="#442222" stroke-width="0.5"/>
<line x1="120" y1="6" x2="124.0" y2="42.0" stroke="#442222" stroke-width="0.5"/>
</g>
<polygon points="80,2.2 116,5 117.6,9.8 83.5,9.8" fill="#6c2a2a"/>
<polygon points="80,2.2 116,5 116.3,6.2 80.5,3.6" fill="#8a4242"/>
<polygon points="92.5,42 124,39 124.2,43.2 95.5,50.8" fill="#874040"/>
<polygon points="110,46 118,44 118,47 111,48.5" fill="#222"/>
<polygon points="0,0 84,1.6 93,56.5 88,57.2 6,26 1.5,14" fill="url(#plate)"/>
<polygon points="78.5,1.4 84.5,1.6 93,56.5 89,56.8" fill="#e4e2d6"/>
<line x1="4" y1="1" x2="10" y2="23" stroke="#ebe5c4" stroke-width="2.2"/>
<line x1="5.3" y1="1" x2="11.3" y2="23" stroke="#c9c6b4" stroke-width="0.5"/>
<line x1="16" y1="1" x2="24" y2="29" stroke="#ebe5c4" stroke-width="2.2"/>
<line x1="17.3" y1="1" x2="25.3" y2="29" stroke="#c9c6b4" stroke-width="0.5"/>
<line x1="34" y1="1" x2="44" y2="36" stroke="#ebe5c4" stroke-width="2.2"/>
<line x1="35.3" y1="1" x2="45.3" y2="36" stroke="#c9c6b4" stroke-width="0.5"/>
<line x1="53" y1="1" x2="64" y2="44" stroke="#ebe5c4" stroke-width="2.2"/>
<line x1="54.3" y1="1" x2="65.3" y2="44" stroke="#c9c6b4" stroke-width="0.5"/>
<line x1="57" y1="1" x2="68" y2="46" stroke="#ebe5c4" stroke-width="2.2"/>
<line x1="58.3" y1="1" x2="69.3" y2="46" stroke="#c9c6b4" stroke-width="0.5"/>
<ellipse cx="8" cy="20" rx="3.4" ry="2.8" fill="#c4c4c0"/>
<ellipse cx="7" cy="19" rx="3.4" ry="2.8" fill="#f6f6f2"/>
<ellipse cx="28.5" cy="22.5" rx="3.4" ry="2.8" fill="#c4c4c0"/>
<ellipse cx="27.5" cy="21.5" rx="3.4" ry="2.8" fill="#f6f6f2"/>
<ellipse cx="61.5" cy="34" rx="3.4" ry="2.8" fill="#c4c4c0"/>
<ellipse cx="60.5" cy="33" rx="3.4" ry="2.8" fill="#f6f6f2"/>
<ellipse cx="44" cy="12" rx="1.1" ry="1.1" fill="#c8c8c4"/>
<ellipse cx="48" cy="20" rx="1.1" ry="1.1" fill="#c8c8c4"/>
<ellipse cx="70" cy="14" rx="1.1" ry="1.1" fill="#c8c8c4"/>
<ellipse cx="72" cy="24" rx="1.1" ry="1.1" fill="#c8c8c4"/>
<ellipse cx="74" cy="32" rx="1.1" ry="1.1" fill="#c8c8c4"/>
<ellipse cx="80" cy="40" rx="1.1" ry="1.1" fill="#c8c8c4"/>
<ellipse cx="58" cy="22" rx="1.1" ry="1.1" fill="#c8c8c4"/>
</g>
<g transform="translate(247.4,1301.8) scale(0.7)">
<ellipse cx="6.5" cy="5.2" rx="6.6" ry="4" fill="#b6ddf4"/>
<rect x="0.3" y="5" width="12.4" height="2.6" fill="#5fb2e6"/>
<path d="M2.2,5 L4.3,2.2 L5.6,3.6 L6.8,1.2 L8.4,3.4 L9.4,2.4 L11,5 Z" fill="#1888d8"/>
<text x="15.5" y="7.6" font-size="8.2" font-weight="bold" fill="#1a86d6" font-family="Liberation Sans, sans-serif" textLength="19" lengthAdjust="spacingAndGlyphs">山美</text>
</g>
<ellipse cx="405" cy="398.5" rx="58" ry="1.8" fill="#e6e6e6"/>
<polygon points="352.1,335.3 369.0,334.5 423.8,339.3 476.9,341.7 473.7,349.8 462.4,365.9 463.2,393.3 443.1,398.1 411.7,398.1 411.7,394.9 364.2,394.9 347.2,394.1 347.2,375.6 352.1,373.9" fill="#d6d6d4" />
<polygon points="352.1,335.3 369.0,334.5 369.0,375.6 352.1,373.9" fill="#dcdcda" />
<polygon points="445.3,362.0 462.5,364.2 463.2,393.3 445.3,396.0" fill="#a4a4a4"/>
<line x1="455" y1="366" x2="458.5" y2="381" stroke="#d8d8d8" stroke-width="1"/>
<polygon points="424.0,339.3 476.4,342.0 457.0,363.3 440.0,362.4 428.4,352.7" fill="#d2d2d2"/>
<polygon points="457.0,363.3 476.4,342.0 470.0,346.0 454.0,358.0" fill="#b8b8b8"/>
<polygon points="462.0,347.0 467.0,346.5 466.0,352.0 461.5,352.5" fill="#e4e4e4"/>
<ellipse cx="437.8" cy="345.7" rx="4.7" ry="2.2" fill="#2e2e2e"/>
<polygon points="411.6,372.0 444.4,368.5 444.8,397.5 411.6,397.5" fill="#dadada"/>
<line x1="420.8" y1="378" x2="420.8" y2="397" stroke="#a8a8a8" stroke-width="1"/>
<line x1="430.2" y1="372" x2="430.2" y2="397" stroke="#a8a8a8" stroke-width="1"/>
<line x1="411.8" y1="381" x2="444" y2="379" stroke="#a8a8a8" stroke-width="1"/>
<line x1="420.8" y1="384.5" x2="430.2" y2="384" stroke="#a8a8a8" stroke-width="1"/>
<polygon points="413.0,383.0 420.0,383.0 420.0,396.5 413.0,396.5" fill="#c4c4c4"/>
<polygon points="422.0,386.0 429.4,386.0 429.4,396.5 422.0,396.5" fill="#c8c8c8"/>
<polygon points="431.5,380.0 443.6,380.0 443.6,396.5 431.5,396.5" fill="#c6c6c6"/>
<polygon points="347.2,375.6 365.8,374.7 366.6,394.9 347.2,394.1" fill="#e2e2e0" />
<line x1="351.3" y1="382.0" x2="351.3" y2="393.3" stroke="#a0a0a0" stroke-width="1.2"/>
<line x1="355.3" y1="382.0" x2="355.3" y2="393.3" stroke="#a0a0a0" stroke-width="1.2"/>
<line x1="359.3" y1="382.0" x2="359.3" y2="393.3" stroke="#a0a0a0" stroke-width="1.2"/>
<line x1="347.2" y1="381.2" x2="365.8" y2="380.7" stroke="#b0b0b0" stroke-width="0.8"/>
<circle cx="418.1" cy="353.8" r="2.9" fill="#222"/>
<circle cx="431.0" cy="357.8" r="3.0" fill="#222"/>
<circle cx="357.7" cy="356.2" r="2.3" fill="#222"/>
<circle cx="353.2" cy="352.2" r="1.2" fill="#222"/>
<circle cx="360.1" cy="351.4" r="1.2" fill="#222"/>
<circle cx="352.9" cy="364.3" r="1.2" fill="#222"/>
<circle cx="360.1" cy="364.3" r="1.2" fill="#222"/>
<circle cx="427.8" cy="350.6" r="1.2" fill="#222"/>
<circle cx="410.9" cy="362.7" r="1.2" fill="#222"/>
<circle cx="436.7" cy="365.9" r="1.3" fill="#222"/>
<circle cx="418.9" cy="378.0" r="1.2" fill="#222"/>
<circle cx="436.7" cy="390.1" r="1.2" fill="#222"/>
<circle cx="452.8" cy="387.6" r="1.2" fill="#222"/>
<circle cx="452.0" cy="367.5" r="1.3" fill="#222"/>
<circle cx="427.0" cy="327.2" r="1.2" fill="#222"/>
<circle cx="367.4" cy="388.4" r="1.0" fill="#222"/>
<circle cx="378.7" cy="388.4" r="1.0" fill="#222"/>
<circle cx="427.8" cy="361.1" r="1.0" fill="#222"/>
<line x1="415.5" y1="370.5" x2="425" y2="365" stroke="#3a3a3a" stroke-width="2.8" stroke-linecap="round"/>
<ellipse cx="394.8" cy="383" rx="3" ry="1.4" fill="#777"/>
<circle cx="355.3" cy="341.7" r="2.7" fill="#2a2a2a"/>
<polygon points="427.6,325.0 443.6,324.5 444.0,338.0 427.8,338.5" fill="#d0d0d0"/>
<ellipse cx="432.5" cy="331.5" rx="1.9" ry="3" fill="#2a2a2a"/>
<ellipse cx="438.8" cy="331.2" rx="1.9" ry="3" fill="#2a2a2a"/>
<ellipse cx="433" cy="332" rx="0.8" ry="1.4" fill="#c82020"/>
<g transform="rotate(18 460 328)"><rect x="446" y="320" width="28" height="13" rx="4" fill="#3a4550"/><rect x="455" y="318.5" width="15" height="16" rx="5" fill="#33404a"/><rect x="441" y="323" width="8" height="7" rx="2" fill="#46525c"/></g>
<line x1="445" y1="337.5" x2="470" y2="341" stroke="#8a8a70" stroke-width="1.2"/>
<ellipse cx="425.4" cy="321.6" rx="6.5" ry="6" fill="#b81c22"/>
<line x1="407.7" y1="304.3" x2="439.1" y2="315.6" stroke="#222" stroke-width="1"/>
<ellipse cx="394.8" cy="328.3" rx="25.8" ry="27" fill="#1b1b1b"/>
<ellipse cx="393.6" cy="328.3" rx="21.5" ry="23" fill="#b81c26"/>
<ellipse cx="393.6" cy="328.3" rx="18.5" ry="20" fill="#cc2630"/>
<circle cx="391.2" cy="328.0" r="9.2" fill="url(#hub)"/>
<circle cx="389.1" cy="315.1" r="2.7" fill="#f4f4f4"/>
<circle cx="404.4" cy="317.6" r="2.7" fill="#eeeeee"/>
<circle cx="379.5" cy="331.2" r="2.7" fill="#f4f4f4"/>
<circle cx="405.2" cy="336.1" r="2.7" fill="#2a0a0a"/>
<circle cx="389.1" cy="344.1" r="2.7" fill="#2a0a0a"/>
<rect x="361.7" y="345.3" width="9" height="3" fill="#3a8ad0"/>
<g transform="translate(357.8,527.2) scale(1.0)">
<polygon points="0,10 19.4,0.8 28.9,0.6 12,13 1.1,16.1" fill="#7a1c1c"/>
<polygon points="0,10 19.4,0.8 21,1.2 1.5,11" fill="#9a3030"/>
<polygon points="10.5,15.5 20,7.2 30.5,0 32.8,0.6 31.6,8.6 14.4,16.1" fill="#ecebe2"/>
<polygon points="14.4,16.1 31.6,8.6 31.8,10 15,17" fill="#c8c6b8"/>
<line x1="14.0" y1="14.5" x2="16.0" y2="9.0" stroke="#b8b6a8" stroke-width="0.7"/>
<line x1="18.5" y1="12.3" x2="20.5" y2="6.6" stroke="#b8b6a8" stroke-width="0.7"/>
<line x1="23.0" y1="10.1" x2="25.0" y2="4.2" stroke="#b8b6a8" stroke-width="0.7"/>
<line x1="27.5" y1="7.8999999999999995" x2="29.5" y2="1.8000000000000007" stroke="#b8b6a8" stroke-width="0.7"/>
<polygon points="30.5,3.5 35,3.8 35.2,12.8 31,13" fill="#5a4848"/>
<polygon points="31.5,5 34,5 34,7.5 31.5,7.5" fill="#8a2020"/>
<polygon points="31.5,9.5 34,9.5 34,12 31.5,12" fill="#8a2020"/>
</g>
<g transform="translate(420.5,527.2) scale(1.0)">
<polygon points="0,10 19.4,0.8 28.9,0.6 12,13 1.1,16.1" fill="#7a1c1c"/>
<polygon points="0,10 19.4,0.8 21,1.2 1.5,11" fill="#9a3030"/>
<polygon points="10.5,15.5 20,7.2 30.5,0 32.8,0.6 31.6,8.6 14.4,16.1" fill="#ecebe2"/>
<polygon points="14.4,16.1 31.6,8.6 31.8,10 15,17" fill="#c8c6b8"/>
<line x1="14.0" y1="14.5" x2="16.0" y2="9.0" stroke="#b8b6a8" stroke-width="0.7"/>
<line x1="18.5" y1="12.3" x2="20.5" y2="6.6" stroke="#b8b6a8" stroke-width="0.7"/>
<line x1="23.0" y1="10.1" x2="25.0" y2="4.2" stroke="#b8b6a8" stroke-width="0.7"/>
<line x1="27.5" y1="7.8999999999999995" x2="29.5" y2="1.8000000000000007" stroke="#b8b6a8" stroke-width="0.7"/>
<polygon points="30.5,3.5 35,3.8 35.2,12.8 31,13" fill="#5a4848"/>
<polygon points="31.5,5 34,5 34,7.5 31.5,7.5" fill="#8a2020"/>
<polygon points="31.5,9.5 34,9.5 34,12 31.5,12" fill="#8a2020"/>
</g>
<g transform="translate(541,822.0) scale(0.4)">
<polygon points="0,10 19.4,0.8 28.9,0.6 12,13 1.1,16.1" fill="#7a1c1c"/>
<polygon points="0,10 19.4,0.8 21,1.2 1.5,11" fill="#9a3030"/>
<polygon points="10.5,15.5 20,7.2 30.5,0 32.8,0.6 31.6,8.6 14.4,16.1" fill="#ecebe2"/>
<polygon points="14.4,16.1 31.6,8.6 31.8,10 15,17" fill="#c8c6b8"/>
<line x1="14.0" y1="14.5" x2="16.0" y2="9.0" stroke="#b8b6a8" stroke-width="0.7"/>
<line x1="18.5" y1="12.3" x2="20.5" y2="6.6" stroke="#b8b6a8" stroke-width="0.7"/>
<line x1="23.0" y1="10.1" x2="25.0" y2="4.2" stroke="#b8b6a8" stroke-width="0.7"/>
<line x1="27.5" y1="7.8999999999999995" x2="29.5" y2="1.8000000000000007" stroke="#b8b6a8" stroke-width="0.7"/>
<polygon points="30.5,3.5 35,3.8 35.2,12.8 31,13" fill="#5a4848"/>
<polygon points="31.5,5 34,5 34,7.5 31.5,7.5" fill="#8a2020"/>
<polygon points="31.5,9.5 34,9.5 34,12 31.5,12" fill="#8a2020"/>
</g>
<g transform="translate(564.8,822.0) scale(0.4)">
<polygon points="0,10 19.4,0.8 28.9,0.6 12,13 1.1,16.1" fill="#7a1c1c"/>
<polygon points="0,10 19.4,0.8 21,1.2 1.5,11" fill="#9a3030"/>
<polygon points="10.5,15.5 20,7.2 30.5,0 32.8,0.6 31.6,8.6 14.4,16.1" fill="#ecebe2"/>
<polygon points="14.4,16.1 31.6,8.6 31.8,10 15,17" fill="#c8c6b8"/>
<line x1="14.0" y1="14.5" x2="16.0" y2="9.0" stroke="#b8b6a8" stroke-width="0.7"/>
<line x1="18.5" y1="12.3" x2="20.5" y2="6.6" stroke="#b8b6a8" stroke-width="0.7"/>
<line x1="23.0" y1="10.1" x2="25.0" y2="4.2" stroke="#b8b6a8" stroke-width="0.7"/>
<line x1="27.5" y1="7.8999999999999995" x2="29.5" y2="1.8000000000000007" stroke="#b8b6a8" stroke-width="0.7"/>
<polygon points="30.5,3.5 35,3.8 35.2,12.8 31,13" fill="#5a4848"/>
<polygon points="31.5,5 34,5 34,7.5 31.5,7.5" fill="#8a2020"/>
<polygon points="31.5,9.5 34,9.5 34,12 31.5,12" fill="#8a2020"/>
</g>
<polygon points="427.9,643.3 440.3,630.4 451.9,629.6 474.1,633.1 476.0,637.0 456.3,642.0 443.0,646.0" fill="#46464a"/>
<polygon points="420.0,667.0 430.5,666.0 430.8,677.0 420.6,678.0" fill="#2c2c30"/>
<polygon points="502.0,649.0 511.8,648.0 512.0,659.5 502.5,660.3" fill="#2c2c30"/>
<line x1="422.5" y1="669" x2="422.5" y2="677" stroke="#555" stroke-width="0.7"/>
<line x1="425.5" y1="669" x2="425.5" y2="677" stroke="#555" stroke-width="0.7"/>
<line x1="428.5" y1="669" x2="428.5" y2="677" stroke="#555" stroke-width="0.7"/>
<line x1="504.5" y1="651" x2="504.5" y2="659" stroke="#555" stroke-width="0.7"/>
<line x1="507.5" y1="651" x2="507.5" y2="659" stroke="#555" stroke-width="0.7"/>
<line x1="510" y1="651" x2="510" y2="659" stroke="#555" stroke-width="0.7"/>
<polygon points="408.3,647.8 507.3,625.5 508.2,631.6 409.6,653.8" fill="#7c4c16"/>
<polygon points="408.3,647.8 507.3,625.5 507.4,626.6 408.4,649.0" fill="#8e5c22"/>
<polygon points="406.0,655.5 409.6,653.8 508.2,631.6 514.0,644.5 414.6,659.3" fill="#3a3a3e"/>
<line x1="428.5" y1="652.5" x2="430.0" y2="656.5" stroke="#d88a3a" stroke-width="1"/>
<line x1="463" y1="644.6" x2="464.5" y2="648.6" stroke="#d88a3a" stroke-width="1"/>
<line x1="472" y1="642.6" x2="473.5" y2="646.6" stroke="#d88a3a" stroke-width="1"/>
<line x1="488" y1="639" x2="489.5" y2="643" stroke="#d88a3a" stroke-width="1"/>
<polygon points="414.6,659.3 514.0,644.5 515.7,649.0 515.0,652.5 417.3,672.3 412.0,667.5" fill="#4a4a4f"/>
<line x1="414.6" y1="659.6" x2="514.5" y2="645" stroke="#8a8a90" stroke-width="0.9"/>
<circle cx="424.0" cy="666.5" r="0.6" fill="#2e2e32"/>
<circle cx="434.0" cy="665.0" r="0.6" fill="#2e2e32"/>
<circle cx="444.0" cy="663.4" r="0.6" fill="#2e2e32"/>
<circle cx="454.0" cy="661.9" r="0.6" fill="#2e2e32"/>
<circle cx="464.0" cy="660.3" r="0.6" fill="#2e2e32"/>
<circle cx="474.0" cy="658.8" r="0.6" fill="#2e2e32"/>
<circle cx="484.0" cy="657.2" r="0.6" fill="#2e2e32"/>
<circle cx="494.0" cy="655.6" r="0.6" fill="#2e2e32"/>
<circle cx="504.0" cy="654.1" r="0.6" fill="#2e2e32"/>
<polygon points="416.0,661.5 424.0,660.3 425.0,668.5 417.5,670.0" fill="#5c5a48"/>
<polygon points="501.0,647.3 509.5,646.0 510.0,652.5 502.0,654.0" fill="#5c5a48"/>
<polygon points="405.7,655.6 412.8,654.8 415.0,662.9 411.9,666.4 408.5,662.0" fill="#e6904a"/>
<polygon points="443.0,642.0 456.3,638.9 457.0,645.5 443.5,648.5" fill="#3e3e42"/>
<rect x="440.5" y="633.4" width="15" height="8.6" rx="2.5" fill="#8e8e8e"/>
<rect x="441.5" y="633.8" width="6" height="7.8" rx="2" fill="#a2a2a2"/>
<line x1="427" y1="645.2" x2="443" y2="642" stroke="#8a6ad6" stroke-width="0.9" stroke-dasharray="1,0.6"/>
<line x1="456.3" y1="638.9" x2="474" y2="634" stroke="#8a6ad6" stroke-width="0.9" stroke-dasharray="1,0.6"/>
<ellipse cx="463.4" cy="659.4" rx="12.6" ry="6.2" transform="rotate(-12 463.4 659.4)" fill="#1a4fd0"/>
<ellipse cx="463" cy="657.6" rx="11" ry="4" transform="rotate(-12 463 657.6)" fill="#2a64e6"/>
<ellipse cx="452.3" cy="651.2" rx="4.6" ry="5.6" fill="#1e58d8"/>
<circle cx="468.1" cy="652.4" r="2.6" fill="#2a9a50"/>
<g transform="translate(279.3,731.7) scale(1.0)">
<polyline points="7.3,96.3 44.4,94.9 83.6,93.1" fill="none" stroke="#111" stroke-width="1.6"/>
<polygon points="30.0,80.0 70.0,80.0 62.0,89.3 40.7,89.3" fill="#bdbbb5"/>
<polygon points="4.0,39.3 84.7,39.3 84.0,78.7 67.3,81.6 48.7,82.4 30.0,81.6 4.0,78.7" fill="url(#coneBody)"/>
<path d="M12.666666666666666,56.0 q4.000000000000002,-6.666666666666664 6.666666666666666,6.666666666666664 M36.666666666666664,52.0 q4.0,8.0 10.0,2.6666666666666665 q4.0,-5.333333333333333 8.0,4.0" stroke="#3a3a3a" stroke-width="1.1" fill="none"/>
<rect x="6.7" y="46.0" width="6.4" height="26.7" rx="2" fill="#b9b7b1"/>
<rect x="6.1" y="46.0" width="6.4" height="26.7" rx="2" fill="#f2f2ee"/>
<circle cx="9.3" cy="51.3" r="0.9" fill="#222"/>
<circle cx="9.3" cy="68.0" r="0.8" fill="#333"/>
<rect x="20.7" y="49.3" width="5.1" height="20.0" rx="2" fill="#b9b7b1"/>
<rect x="20.1" y="49.3" width="5.1" height="20.0" rx="2" fill="#f2f2ee"/>
<circle cx="22.7" cy="54.7" r="0.9" fill="#222"/>
<circle cx="22.7" cy="64.7" r="0.8" fill="#333"/>
<rect x="27.2" y="45.3" width="7.3" height="29.3" rx="2" fill="#b9b7b1"/>
<rect x="26.6" y="45.3" width="7.3" height="29.3" rx="2" fill="#f2f2ee"/>
<circle cx="30.3" cy="50.7" r="0.9" fill="#222"/>
<circle cx="30.3" cy="70.0" r="0.8" fill="#333"/>
<rect x="51.6" y="45.3" width="7.3" height="29.3" rx="2" fill="#b9b7b1"/>
<rect x="51.0" y="45.3" width="7.3" height="29.3" rx="2" fill="#f2f2ee"/>
<circle cx="54.7" cy="50.7" r="0.9" fill="#222"/>
<circle cx="54.7" cy="70.0" r="0.8" fill="#333"/>
<rect x="60.7" y="49.3" width="5.1" height="20.0" rx="2" fill="#b9b7b1"/>
<rect x="60.1" y="49.3" width="5.1" height="20.0" rx="2" fill="#f2f2ee"/>
<circle cx="62.7" cy="54.7" r="0.9" fill="#222"/>
<circle cx="62.7" cy="64.7" r="0.8" fill="#333"/>
<rect x="77.1" y="46.7" width="5.6" height="25.3" rx="2" fill="#b9b7b1"/>
<rect x="76.5" y="46.7" width="5.6" height="25.3" rx="2" fill="#f2f2ee"/>
<circle cx="79.3" cy="52.0" r="0.9" fill="#222"/>
<circle cx="79.3" cy="67.3" r="0.8" fill="#333"/>
<polygon points="9.3,13.3 19.3,9.1 68.0,9.1 80.0,13.3 84.9,27.7 3.7,27.7" fill="url(#coneBowl)"/>
<polygon points="38.0,9.1 48.7,9.1 50.3,26.7 39.3,26.7" fill="#e8e8e4"/>
<polygon points="5.3,27.3 83.3,27.3 82.3,37.3 6.0,37.3" fill="#d6d4ce"/>
<polygon points="5.3,27.3 83.3,27.3 82.8,31.3 5.7,31.3" fill="#c4c2bc"/>
<path d="M6.666666666666667,33.333333333333336 L6.0,23.333333333333332 L8.666666666666666,22.0" stroke="#bbb" stroke-width="0.8" fill="none"/>
<path d="M62.0,32.0 L62.666666666666664,20.0 L65.33333333333333,19.333333333333332 L65.73333333333333,30.0" stroke="#bbb" stroke-width="0.8" fill="none"/>
<path d="M3.7,26.4 A40.7,2.9 0 0 0 85.1,26.4" stroke="#1a1a1a" stroke-width="2.8" fill="none"/>
<path d="M3.7,26.4 A40.7,2.1 0 0 1 85.1,26.4" stroke="#3a3a3a" stroke-width="1" fill="none"/>
<path d="M5.7,37.3 Q44.4,34.4 82.7,37.1 L82.7,39.3 Q44.4,36.7 5.7,40.0 Z" fill="#4aa2e2"/>
<rect x="28.7" y="32.0" width="3.2" height="10.0" fill="#1e1e1e"/>
<rect x="53.1" y="32.0" width="3.2" height="10.0" fill="#1e1e1e"/>
<rect x="83.1" y="32.0" width="3.2" height="10.0" fill="#1e1e1e"/>
<rect x="8.0" y="41.3" width="4.0" height="3.3" fill="#1e1e1e"/>
<polygon points="19.3,9.1 20.4,2.9 67.3,2.9 68.3,9.1" fill="url(#coneDome)"/>
<ellipse cx="43.9" cy="2.9" rx="23.5" ry="2.7" fill="#eeeeea"/>
<text x="10.7" y="19.1" font-size="8.3" font-weight="bold" fill="#3a9ae0" font-family="Liberation Sans, sans-serif" textLength="18.0" lengthAdjust="spacingAndGlyphs">SANME</text>
<path d="M65.33333333333333,55.333333333333336 L68.0,49.333333333333336 L70.66666666666667,55.333333333333336 Z" fill="#4aa2e2"/>
<polygon points="0.0,78.7 7.6,78.7 7.6,100.0 0.0,100.7" fill="#111"/>
<polygon points="40.0,80.7 48.9,80.7 48.9,104.3 40.0,104.3" fill="#111"/>
<polygon points="83.3,86.7 88.9,86.7 88.9,99.3 83.3,99.3" fill="#111"/>
<polyline points="0.7,100.0 44.4,103.7 88.7,98.7" fill="none" stroke="#111" stroke-width="2.2"/>
<ellipse cx="87.6" cy="73.3" rx="11.7" ry="13.3" fill="#111"/>
<ellipse cx="91.6" cy="73.3" rx="7.3" ry="11.7" fill="#e8891c"/>
<ellipse cx="92.0" cy="73.3" rx="3.3" ry="5.3" fill="#d0740e"/>
<circle cx="91.3" cy="64.0" r="0.6" fill="#7a4008"/>
<circle cx="95.3" cy="73.3" r="0.6" fill="#7a4008"/>
<circle cx="91.3" cy="82.7" r="0.6" fill="#7a4008"/>
<circle cx="88.0" cy="73.3" r="0.6" fill="#7a4008"/>
</g>
<g transform="translate(518.3,925.0) scale(0.8)">
<polyline points="7.3,96.3 44.4,94.9 83.6,93.1" fill="none" stroke="#111" stroke-width="1.6"/>
<polygon points="30.0,80.0 70.0,80.0 62.0,89.3 40.7,89.3" fill="#bdbbb5"/>
<polygon points="4.0,39.3 84.7,39.3 84.0,78.7 67.3,81.6 48.7,82.4 30.0,81.6 4.0,78.7" fill="url(#coneBody)"/>
<path d="M12.666666666666666,56.0 q4.000000000000002,-6.666666666666664 6.666666666666666,6.666666666666664 M36.666666666666664,52.0 q4.0,8.0 10.0,2.6666666666666665 q4.0,-5.333333333333333 8.0,4.0" stroke="#3a3a3a" stroke-width="1.1" fill="none"/>
<rect x="6.7" y="46.0" width="6.4" height="26.7" rx="2" fill="#b9b7b1"/>
<rect x="6.1" y="46.0" width="6.4" height="26.7" rx="2" fill="#f2f2ee"/>
<circle cx="9.3" cy="51.3" r="0.9" fill="#222"/>
<circle cx="9.3" cy="68.0" r="0.8" fill="#333"/>
<rect x="20.7" y="49.3" width="5.1" height="20.0" rx="2" fill="#b9b7b1"/>
<rect x="20.1" y="49.3" width="5.1" height="20.0" rx="2" fill="#f2f2ee"/>
<circle cx="22.7" cy="54.7" r="0.9" fill="#222"/>
<circle cx="22.7" cy="64.7" r="0.8" fill="#333"/>
<rect x="27.2" y="45.3" width="7.3" height="29.3" rx="2" fill="#b9b7b1"/>
<rect x="26.6" y="45.3" width="7.3" height="29.3" rx="2" fill="#f2f2ee"/>
<circle cx="30.3" cy="50.7" r="0.9" fill="#222"/>
<circle cx="30.3" cy="70.0" r="0.8" fill="#333"/>
<rect x="51.6" y="45.3" width="7.3" height="29.3" rx="2" fill="#b9b7b1"/>
<rect x="51.0" y="45.3" width="7.3" height="29.3" rx="2" fill="#f2f2ee"/>
<circle cx="54.7" cy="50.7" r="0.9" fill="#222"/>
<circle cx="54.7" cy="70.0" r="0.8" fill="#333"/>
<rect x="60.7" y="49.3" width="5.1" height="20.0" rx="2" fill="#b9b7b1"/>
<rect x="60.1" y="49.3" width="5.1" height="20.0" rx="2" fill="#f2f2ee"/>
<circle cx="62.7" cy="54.7" r="0.9" fill="#222"/>
<circle cx="62.7" cy="64.7" r="0.8" fill="#333"/>
<rect x="77.1" y="46.7" width="5.6" height="25.3" rx="2" fill="#b9b7b1"/>
<rect x="76.5" y="46.7" width="5.6" height="25.3" rx="2" fill="#f2f2ee"/>
<circle cx="79.3" cy="52.0" r="0.9" fill="#222"/>
<circle cx="79.3" cy="67.3" r="0.8" fill="#333"/>
<polygon points="9.3,13.3 19.3,9.1 68.0,9.1 80.0,13.3 84.9,27.7 3.7,27.7" fill="url(#coneBowl)"/>
<polygon points="38.0,9.1 48.7,9.1 50.3,26.7 39.3,26.7" fill="#e8e8e4"/>
<polygon points="5.3,27.3 83.3,27.3 82.3,37.3 6.0,37.3" fill="#d6d4ce"/>
<polygon points="5.3,27.3 83.3,27.3 82.8,31.3 5.7,31.3" fill="#c4c2bc"/>
<path d="M6.666666666666667,33.333333333333336 L6.0,23.333333333333332 L8.666666666666666,22.0" stroke="#bbb" stroke-width="0.8" fill="none"/>
<path d="M62.0,32.0 L62.666666666666664,20.0 L65.33333333333333,19.333333333333332 L65.73333333333333,30.0" stroke="#bbb" stroke-width="0.8" fill="none"/>
<path d="M3.7,26.4 A40.7,2.9 0 0 0 85.1,26.4" stroke="#1a1a1a" stroke-width="2.8" fill="none"/>
<path d="M3.7,26.4 A40.7,2.1 0 0 1 85.1,26.4" stroke="#3a3a3a" stroke-width="1" fill="none"/>
<path d="M5.7,37.3 Q44.4,34.4 82.7,37.1 L82.7,39.3 Q44.4,36.7 5.7,40.0 Z" fill="#4aa2e2"/>
<rect x="28.7" y="32.0" width="3.2" height="10.0" fill="#1e1e1e"/>
<rect x="53.1" y="32.0" width="3.2" height="10.0" fill="#1e1e1e"/>
<rect x="83.1" y="32.0" width="3.2" height="10.0" fill="#1e1e1e"/>
<rect x="8.0" y="41.3" width="4.0" height="3.3" fill="#1e1e1e"/>
<polygon points="19.3,9.1 20.4,2.9 67.3,2.9 68.3,9.1" fill="url(#coneDome)"/>
<ellipse cx="43.9" cy="2.9" rx="23.5" ry="2.7" fill="#eeeeea"/>
<text x="10.7" y="19.1" font-size="8.3" font-weight="bold" fill="#3a9ae0" font-family="Liberation Sans, sans-serif" textLength="18.0" lengthAdjust="spacingAndGlyphs">SANME</text>
<path d="M65.33333333333333,55.333333333333336 L68.0,49.333333333333336 L70.66666666666667,55.333333333333336 Z" fill="#4aa2e2"/>
<polygon points="0.0,78.7 7.6,78.7 7.6,100.0 0.0,100.7" fill="#111"/>
<polygon points="40.0,80.7 48.9,80.7 48.9,104.3 40.0,104.3" fill="#111"/>
<polygon points="83.3,86.7 88.9,86.7 88.9,99.3 83.3,99.3" fill="#111"/>
<polyline points="0.7,100.0 44.4,103.7 88.7,98.7" fill="none" stroke="#111" stroke-width="2.2"/>
<ellipse cx="87.6" cy="73.3" rx="11.7" ry="13.3" fill="#111"/>
<ellipse cx="91.6" cy="73.3" rx="7.3" ry="11.7" fill="#e8891c"/>
<ellipse cx="92.0" cy="73.3" rx="3.3" ry="5.3" fill="#d0740e"/>
<circle cx="91.3" cy="64.0" r="0.6" fill="#7a4008"/>
<circle cx="95.3" cy="73.3" r="0.6" fill="#7a4008"/>
<circle cx="91.3" cy="82.7" r="0.6" fill="#7a4008"/>
<circle cx="88.0" cy="73.3" r="0.6" fill="#7a4008"/>
</g>
<g transform="translate(702.7,925.0) scale(0.8)">
<polyline points="7.3,96.3 44.4,94.9 83.6,93.1" fill="none" stroke="#111" stroke-width="1.6"/>
<polygon points="30.0,80.0 70.0,80.0 62.0,89.3 40.7,89.3" fill="#bdbbb5"/>
<polygon points="4.0,39.3 84.7,39.3 84.0,78.7 67.3,81.6 48.7,82.4 30.0,81.6 4.0,78.7" fill="url(#coneBody)"/>
<path d="M12.666666666666666,56.0 q4.000000000000002,-6.666666666666664 6.666666666666666,6.666666666666664 M36.666666666666664,52.0 q4.0,8.0 10.0,2.6666666666666665 q4.0,-5.333333333333333 8.0,4.0" stroke="#3a3a3a" stroke-width="1.1" fill="none"/>
<rect x="6.7" y="46.0" width="6.4" height="26.7" rx="2" fill="#b9b7b1"/>
<rect x="6.1" y="46.0" width="6.4" height="26.7" rx="2" fill="#f2f2ee"/>
<circle cx="9.3" cy="51.3" r="0.9" fill="#222"/>
<circle cx="9.3" cy="68.0" r="0.8" fill="#333"/>
<rect x="20.7" y="49.3" width="5.1" height="20.0" rx="2" fill="#b9b7b1"/>
<rect x="20.1" y="49.3" width="5.1" height="20.0" rx="2" fill="#f2f2ee"/>
<circle cx="22.7" cy="54.7" r="0.9" fill="#222"/>
<circle cx="22.7" cy="64.7" r="0.8" fill="#333"/>
<rect x="27.2" y="45.3" width="7.3" height="29.3" rx="2" fill="#b9b7b1"/>
<rect x="26.6" y="45.3" width="7.3" height="29.3" rx="2" fill="#f2f2ee"/>
<circle cx="30.3" cy="50.7" r="0.9" fill="#222"/>
<circle cx="30.3" cy="70.0" r="0.8" fill="#333"/>
<rect x="51.6" y="45.3" width="7.3" height="29.3" rx="2" fill="#b9b7b1"/>
<rect x="51.0" y="45.3" width="7.3" height="29.3" rx="2" fill="#f2f2ee"/>
<circle cx="54.7" cy="50.7" r="0.9" fill="#222"/>
<circle cx="54.7" cy="70.0" r="0.8" fill="#333"/>
<rect x="60.7" y="49.3" width="5.1" height="20.0" rx="2" fill="#b9b7b1"/>
<rect x="60.1" y="49.3" width="5.1" height="20.0" rx="2" fill="#f2f2ee"/>
<circle cx="62.7" cy="54.7" r="0.9" fill="#222"/>
<circle cx="62.7" cy="64.7" r="0.8" fill="#333"/>
<rect x="77.1" y="46.7" width="5.6" height="25.3" rx="2" fill="#b9b7b1"/>
<rect x="76.5" y="46.7" width="5.6" height="25.3" rx="2" fill="#f2f2ee"/>
<circle cx="79.3" cy="52.0" r="0.9" fill="#222"/>
<circle cx="79.3" cy="67.3" r="0.8" fill="#333"/>
<polygon points="9.3,13.3 19.3,9.1 68.0,9.1 80.0,13.3 84.9,27.7 3.7,27.7" fill="url(#coneBowl)"/>
<polygon points="38.0,9.1 48.7,9.1 50.3,26.7 39.3,26.7" fill="#e8e8e4"/>
<polygon points="5.3,27.3 83.3,27.3 82.3,37.3 6.0,37.3" fill="#d6d4ce"/>
<polygon points="5.3,27.3 83.3,27.3 82.8,31.3 5.7,31.3" fill="#c4c2bc"/>
<path d="M6.666666666666667,33.333333333333336 L6.0,23.333333333333332 L8.666666666666666,22.0" stroke="#bbb" stroke-width="0.8" fill="none"/>
<path d="M62.0,32.0 L62.666666666666664,20.0 L65.33333333333333,19.333333333333332 L65.73333333333333,30.0" stroke="#bbb" stroke-width="0.8" fill="none"/>
<path d="M3.7,26.4 A40.7,2.9 0 0 0 85.1,26.4" stroke="#1a1a1a" stroke-width="2.8" fill="none"/>
<path d="M3.7,26.4 A40.7,2.1 0 0 1 85.1,26.4" stroke="#3a3a3a" stroke-width="1" fill="none"/>
<path d="M5.7,37.3 Q44.4,34.4 82.7,37.1 L82.7,39.3 Q44.4,36.7 5.7,40.0 Z" fill="#4aa2e2"/>
<rect x="28.7" y="32.0" width="3.2" height="10.0" fill="#1e1e1e"/>
<rect x="53.1" y="32.0" width="3.2" height="10.0" fill="#1e1e1e"/>
<rect x="83.1" y="32.0" width="3.2" height="10.0" fill="#1e1e1e"/>
<rect x="8.0" y="41.3" width="4.0" height="3.3" fill="#1e1e1e"/>
<polygon points="19.3,9.1 20.4,2.9 67.3,2.9 68.3,9.1" fill="url(#coneDome)"/>
<ellipse cx="43.9" cy="2.9" rx="23.5" ry="2.7" fill="#eeeeea"/>
<text x="10.7" y="19.1" font-size="8.3" font-weight="bold" fill="#3a9ae0" font-family="Liberation Sans, sans-serif" textLength="18.0" lengthAdjust="spacingAndGlyphs">SANME</text>
<path d="M65.33333333333333,55.333333333333336 L68.0,49.333333333333336 L70.66666666666667,55.333333333333336 Z" fill="#4aa2e2"/>
<polygon points="0.0,78.7 7.6,78.7 7.6,100.0 0.0,100.7" fill="#111"/>
<polygon points="40.0,80.7 48.9,80.7 48.9,104.3 40.0,104.3" fill="#111"/>
<polygon points="83.3,86.7 88.9,86.7 88.9,99.3 83.3,99.3" fill="#111"/>
<polyline points="0.7,100.0 44.4,103.7 88.7,98.7" fill="none" stroke="#111" stroke-width="2.2"/>
<ellipse cx="87.6" cy="73.3" rx="11.7" ry="13.3" fill="#111"/>
<ellipse cx="91.6" cy="73.3" rx="7.3" ry="11.7" fill="#e8891c"/>
<ellipse cx="92.0" cy="73.3" rx="3.3" ry="5.3" fill="#d0740e"/>
<circle cx="91.3" cy="64.0" r="0.6" fill="#7a4008"/>
<circle cx="95.3" cy="73.3" r="0.6" fill="#7a4008"/>
<circle cx="91.3" cy="82.7" r="0.6" fill="#7a4008"/>
<circle cx="88.0" cy="73.3" r="0.6" fill="#7a4008"/>
</g>
<defs>
<linearGradient id="cone" x1="0" x2="1" y1="0" y2="0"><stop offset="0" stop-color="#626262"/><stop offset="0.3" stop-color="#6e6e6e"/><stop offset="0.46" stop-color="#8c8c8c"/><stop offset="0.54" stop-color="#7c7c7c"/><stop offset="0.75" stop-color="#686868"/><stop offset="1" stop-color="#5e5e5e"/></linearGradient>
<pattern id="hatch" width="2.6" height="6" patternUnits="userSpaceOnUse" patternTransform="skewX(40)"><rect width="2.6" height="6" fill="#d4d4d4"/><rect width="1.3" height="6" fill="#7a7a7a"/></pattern>
</defs>
<polyline points="287.3,150 287.3,184" fill="none" stroke="#5a5a5a" stroke-width="1.1"/>
<path d="M284.8,170.5 L289.8,170.5 L287.3,184 Z" fill="#000"/>
<polyline points="356,216 409,216 409,297" fill="none" stroke="#5a5a5a" stroke-width="1.1"/>
<path d="M406.5,283.5 L411.5,283.5 L409,297 Z" fill="#000"/>
<polyline points="264,241 264,268.5" fill="none" stroke="#5a5a5a" stroke-width="1.1"/>
<path d="M261.5,255.0 L266.5,255.0 L264,268.5 Z" fill="#000"/>
<line x1="191.2" y1="268.9" x2="264.3" y2="268.9" stroke="#8a8a8a" stroke-width="1.2"/>
<line x1="191.2" y1="278.1" x2="264.3" y2="278.1" stroke="#8a8a8a" stroke-width="1.2"/>
<circle cx="191.2" cy="273.5" r="4.6" fill="#fff" stroke="#444" stroke-width="1"/>
<circle cx="264.3" cy="273.5" r="4.6" fill="#fff" stroke="#444" stroke-width="1"/>
<g transform="translate(222.00,257.50) scale(1.1765,1.0500)" fill="none" stroke="#606060" stroke-width="0.85" vector-effect="non-scaling-stroke" stroke-linecap="butt" stroke-linejoin="round"><path transform="translate(0.00,0)" d="M0,2.2 Q0.3,0 2,0 Q4,0 4,2.5 Q4,4.2 2.6,5.8 L0,10 L4.1,10"/><path transform="translate(4.90,0)" d="M3.7,0.7 Q3,0 2,0 Q0,0 0,4 L0,7.5 Q0,10 2,10 Q4,10 4,7.3 Q4,4.6 2,4.6 Q0.4,4.6 0,6"/><path transform="translate(9.80,0)" d="M2.7,0.2 L2.5,10 M4.5,0.2 L4.3,10 M1.5,3.4 L5.5,3.4 M1.5,6.6 L5.5,6.6"/></g>
<polyline points="186.7,273.5 186.7,322" fill="none" stroke="#5a5a5a" stroke-width="1.1"/>
<path d="M184.2,308.5 L189.2,308.5 L186.7,322 Z" fill="#000"/>
<polyline points="263,332.4 301.5,332.4 301.5,442.5" fill="none" stroke="#5a5a5a" stroke-width="1.1"/>
<path d="M299.0,429.0 L304.0,429.0 L301.5,442.5 Z" fill="#000"/>
<polyline points="263,366.6 301.5,366.6" fill="none" stroke="#5a5a5a" stroke-width="1.1"/>
<polyline points="201.5,384 201.5,424" fill="none" stroke="#5a5a5a" stroke-width="1.1"/>
<path d="M199.0,410.5 L204.0,410.5 L201.5,424 Z" fill="#000"/>
<line x1="151.8" y1="424.3" x2="204" y2="424.3" stroke="#8a8a8a" stroke-width="1.2"/>
<line x1="151.8" y1="433.5" x2="204" y2="433.5" stroke="#8a8a8a" stroke-width="1.2"/>
<circle cx="151.8" cy="428.9" r="4.6" fill="#fff" stroke="#444" stroke-width="1"/>
<circle cx="204" cy="428.9" r="4.6" fill="#fff" stroke="#444" stroke-width="1"/>
<g transform="translate(169.00,410.50) scale(1.1569,1.0500)" fill="none" stroke="#606060" stroke-width="0.85" vector-effect="non-scaling-stroke" stroke-linecap="butt" stroke-linejoin="round"><path transform="translate(0.00,0)" d="M0,2.2 Q0.3,0 2,0 Q4,0 4,2.5 Q4,4.2 2.6,5.8 L0,10 L4.1,10"/><path transform="translate(4.90,0)" d="M0,0 L4,0 L1.4,10"/><path transform="translate(9.80,0)" d="M2.7,0.2 L2.5,10 M4.5,0.2 L4.3,10 M1.5,3.4 L5.5,3.4 M1.5,6.6 L5.5,6.6"/></g>
<polyline points="147.2,428.9 147.2,470" fill="none" stroke="#5a5a5a" stroke-width="1.1"/>
<path d="M144.7,457.0 L149.7,457.0 L147.2,470.5 Z" fill="#000"/>
<rect x="100.7" y="507.6" width="88.2" height="4.8" fill="url(#hatch)"/><line x1="100.7" y1="507.3" x2="188.9" y2="507.3" stroke="#555" stroke-width="1"/>
<path d="M147.3,473 L120.90,491.83 Q116.70,495.00 120.30,498.76 A30.00,10.0 0 0 0 174.30,498.76 Q177.90,495.00 173.70,491.83 Z" fill="url(#cone)"/>
<g stroke="#555" stroke-width="1" fill="none"><path d="M140.5,515 L140.5,526.5 M138.4,521.3 L142.4,521.3 M138,526.4 L143,526.4"/><path d="M133.5,515 L133.8,516.5 M132.2,517.2 L135.8,517 Q136,519.5 134.2,520.5 M133.6,517.2 Q133,519.5 131.8,520.2 M131.4,522.2 L136.8,522 M134.2,520.8 L134.2,527.3 M134,523 L131.3,526 M134.4,523 L137,525.8"/></g>
<polyline points="374.2,402 374.2,442.5" fill="none" stroke="#5a5a5a" stroke-width="1.1"/>
<path d="M371.7,429.0 L376.7,429.0 L374.2,442.5 Z" fill="#000"/>
<line x1="300.6" y1="442.7" x2="349.8" y2="442.7" stroke="#8a8a8a" stroke-width="1.2"/>
<line x1="300.6" y1="451.9" x2="349.8" y2="451.9" stroke="#8a8a8a" stroke-width="1.2"/>
<circle cx="300.6" cy="447.3" r="4.6" fill="#fff" stroke="#444" stroke-width="1"/>
<circle cx="349.8" cy="447.3" r="4.6" fill="#fff" stroke="#444" stroke-width="1"/>
<line x1="359.2" y1="442.7" x2="408.9" y2="442.7" stroke="#8a8a8a" stroke-width="1.2"/>
<line x1="359.2" y1="451.9" x2="408.9" y2="451.9" stroke="#8a8a8a" stroke-width="1.2"/>
<circle cx="359.2" cy="447.3" r="4.6" fill="#fff" stroke="#444" stroke-width="1"/>
<circle cx="408.9" cy="447.3" r="4.6" fill="#fff" stroke="#444" stroke-width="1"/>
<g transform="translate(317.50,428.50) scale(1.1438,1.1000)" fill="none" stroke="#606060" stroke-width="0.85" vector-effect="non-scaling-stroke" stroke-linecap="butt" stroke-linejoin="round"><path transform="translate(0.00,0)" d="M0,2.2 Q0.3,0 2,0 Q4,0 4,2.5 Q4,4.2 2.6,5.8 L0,10 L4.1,10"/><path transform="translate(4.90,0)" d="M2,4.8 Q0.2,4.8 0.2,2.4 Q0.2,0 2,0 Q3.8,0 3.8,2.4 Q3.8,4.8 2,4.8 Q0,4.8 0,7.4 Q0,10 2,10 Q4,10 4,7.4 Q4,4.8 2,4.8 Z"/><path transform="translate(9.80,0)" d="M2.7,0.2 L2.5,10 M4.5,0.2 L4.3,10 M1.5,3.4 L5.5,3.4 M1.5,6.6 L5.5,6.6"/></g>
<g transform="translate(389.00,428.50) scale(1.1628,1.1000)" fill="none" stroke="#606060" stroke-width="0.85" vector-effect="non-scaling-stroke" stroke-linecap="butt" stroke-linejoin="round"><path transform="translate(0.00,0)" d="M0,2 L1.9,0 L1.9,10"/><path transform="translate(3.10,0)" d="M2.7,0.2 L2.5,10 M4.5,0.2 L4.3,10 M1.5,3.4 L5.5,3.4 M1.5,6.6 L5.5,6.6"/></g>
<polyline points="413.5,447.3 413.5,479.5" fill="none" stroke="#5a5a5a" stroke-width="1.1"/>
<path d="M410.8,466.0 L415.8,466.0 L413.3,479.5 Z" fill="#000"/>
<line x1="413.1" y1="479.5" x2="352.7" y2="517.6" stroke="#222" stroke-width="0.8" stroke-dasharray="6,3.5"/>
<line x1="413.1" y1="479.5" x2="364.9" y2="517.6" stroke="#222" stroke-width="0.75"/>
<line x1="413.1" y1="479.5" x2="374.4" y2="517.6" stroke="#222" stroke-width="0.75"/>
<line x1="413.1" y1="479.5" x2="384.8" y2="517.6" stroke="#222" stroke-width="0.75"/>
<line x1="413.1" y1="479.5" x2="392.3" y2="517.6" stroke="#222" stroke-width="0.75"/>
<line x1="413.1" y1="479.5" x2="398.9" y2="517.6" stroke="#222" stroke-width="0.75"/>
<line x1="413.1" y1="479.5" x2="405.6" y2="517.6" stroke="#222" stroke-width="0.75"/>
<line x1="413.1" y1="479.5" x2="413.2" y2="517.6" stroke="#222" stroke-width="0.75"/>
<line x1="413.1" y1="479.5" x2="420.8" y2="517.6" stroke="#222" stroke-width="0.75"/>
<line x1="413.1" y1="479.5" x2="427.4" y2="517.6" stroke="#222" stroke-width="0.75"/>
<line x1="413.1" y1="479.5" x2="434.9" y2="517.6" stroke="#222" stroke-width="0.75"/>
<line x1="413.1" y1="479.5" x2="443.4" y2="517.6" stroke="#222" stroke-width="0.75"/>
<line x1="413.1" y1="479.5" x2="452.9" y2="517.6" stroke="#222" stroke-width="0.75"/>
<line x1="413.1" y1="479.5" x2="461.4" y2="517.6" stroke="#222" stroke-width="0.75"/>
<line x1="413.1" y1="479.5" x2="474.0" y2="517.6" stroke="#222" stroke-width="0.8" stroke-dasharray="6,3.5"/>
<path d="M338.5,517.6 H486.8 V553.9 H338.5 Z M344.2,523.3 V547.8 H479.6 V523.3 Z" fill="#000" fill-rule="evenodd"/>
<polyline points="359.7,541 359.7,582.8" fill="none" stroke="#5a5a5a" stroke-width="1.1"/>
<path d="M357.2,569.3 L362.2,569.3 L359.7,582.8 Z" fill="#000"/>
<polyline points="417.8,541 417.8,582.8" fill="none" stroke="#5a5a5a" stroke-width="1.1"/>
<path d="M415.3,569.3 L420.3,569.3 L417.8,582.8 Z" fill="#000"/>
<line x1="359.8" y1="583.1" x2="425.4" y2="583.1" stroke="#8a8a8a" stroke-width="1.2"/>
<line x1="359.8" y1="592.3" x2="425.4" y2="592.3" stroke="#8a8a8a" stroke-width="1.2"/>
<circle cx="359.8" cy="587.7" r="4.6" fill="#fff" stroke="#444" stroke-width="1"/>
<circle cx="425.4" cy="587.7" r="4.6" fill="#fff" stroke="#444" stroke-width="1"/>
<line x1="434.8" y1="583.1" x2="474.5" y2="583.1" stroke="#8a8a8a" stroke-width="1.2"/>
<line x1="434.8" y1="592.3" x2="474.5" y2="592.3" stroke="#8a8a8a" stroke-width="1.2"/>
<circle cx="434.8" cy="587.7" r="4.6" fill="#fff" stroke="#444" stroke-width="1"/>
<circle cx="474.5" cy="587.7" r="4.6" fill="#fff" stroke="#444" stroke-width="1"/>
<g transform="translate(385.70,567.50) scale(1.1442,1.1500)" fill="none" stroke="#606060" stroke-width="0.85" vector-effect="non-scaling-stroke" stroke-linecap="butt" stroke-linejoin="round"><path transform="translate(0.00,0)" d="M0,2.2 Q0.3,0 2,0 Q4,0 4,2.5 Q4,4.2 2.6,5.8 L0,10 L4.1,10"/><path transform="translate(4.90,0)" d="M2.7,0.2 L2.5,10 M4.5,0.2 L4.3,10 M1.5,3.4 L5.5,3.4 M1.5,6.6 L5.5,6.6"/></g>
<g transform="translate(445.00,567.50) scale(1.1058,1.1500)" fill="none" stroke="#606060" stroke-width="0.85" vector-effect="non-scaling-stroke" stroke-linecap="butt" stroke-linejoin="round"><path transform="translate(0.00,0)" d="M0,1.2 Q0.6,0 2,0 Q4,0 4,2.5 Q4,4.8 1.6,4.8 M1.6,4.8 Q4,4.8 4,7.4 Q4,10 2,10 Q0.6,10 0,8.8"/><path transform="translate(4.90,0)" d="M2.7,0.2 L2.5,10 M4.5,0.2 L4.3,10 M1.5,3.4 L5.5,3.4 M1.5,6.6 L5.5,6.6"/></g>
<polyline points="479.2,587.7 479.2,622" fill="none" stroke="#5a5a5a" stroke-width="1.1"/>
<path d="M476.7,608.5 L481.7,608.5 L479.2,622 Z" fill="#000"/>
<polyline points="403,663.5 336.4,663.5 336.4,729.8" fill="none" stroke="#5a5a5a" stroke-width="1.1"/>
<path d="M333.9,716.3 L338.9,716.3 L336.4,729.8 Z" fill="#000"/>
<polyline points="317.2,837 317.2,1035" fill="none" stroke="#5a5a5a" stroke-width="1.1"/>
<path d="M314.7,1021.8 L319.7,1021.8 L317.2,1035.3 Z" fill="#000"/>
<polyline points="460.8,680 460.8,702" fill="none" stroke="#5a5a5a" stroke-width="1.1"/>
<line x1="460.8" y1="702.1" x2="498.2" y2="702.1" stroke="#8a8a8a" stroke-width="1.2"/>
<line x1="460.8" y1="711.3" x2="498.2" y2="711.3" stroke="#8a8a8a" stroke-width="1.2"/>
<circle cx="460.8" cy="706.7" r="4.6" fill="#fff" stroke="#444" stroke-width="1"/>
<circle cx="498.2" cy="706.7" r="4.6" fill="#fff" stroke="#444" stroke-width="1"/>
<line x1="507.1" y1="702.1" x2="544.5" y2="702.1" stroke="#8a8a8a" stroke-width="1.2"/>
<line x1="507.1" y1="711.3" x2="544.5" y2="711.3" stroke="#8a8a8a" stroke-width="1.2"/>
<circle cx="507.1" cy="706.7" r="4.6" fill="#fff" stroke="#444" stroke-width="1"/>
<circle cx="544.5" cy="706.7" r="4.6" fill="#fff" stroke="#444" stroke-width="1"/>
<g transform="translate(473.00,716.50) scale(1.1556,1.1000)" fill="none" stroke="#606060" stroke-width="0.85" vector-effect="non-scaling-stroke" stroke-linecap="butt" stroke-linejoin="round"><path transform="translate(0.00,0)" d="M0,2 L1.9,0 L1.9,10"/><path transform="translate(3.10,0)" d="M0,1.2 Q0.6,0 2,0 Q4,0 4,2.5 Q4,4.8 1.6,4.8 M1.6,4.8 Q4,4.8 4,7.4 Q4,10 2,10 Q0.6,10 0,8.8"/><path transform="translate(8.00,0)" d="M2.7,0.2 L2.5,10 M4.5,0.2 L4.3,10 M1.5,3.4 L5.5,3.4 M1.5,6.6 L5.5,6.6"/></g>
<g transform="translate(522.20,716.50) scale(1.1827,1.1000)" fill="none" stroke="#606060" stroke-width="0.85" vector-effect="non-scaling-stroke" stroke-linecap="butt" stroke-linejoin="round"><path transform="translate(0.00,0)" d="M3.9,0 L0.4,0 L0.1,4.6 Q0.8,3.8 2,3.8 Q4,3.8 4,6.8 Q4,10 2,10 Q0.6,10 0,8.8"/><path transform="translate(4.90,0)" d="M2.7,0.2 L2.5,10 M4.5,0.2 L4.3,10 M1.5,3.4 L5.5,3.4 M1.5,6.6 L5.5,6.6"/></g>
<polyline points="534.9,700.5 534.9,653.3 825.5,653.3 825.5,1125.3 517.7,1125.3" fill="none" stroke="#5a5a5a" stroke-width="1.1"/>
<path d="M551.5,1122.8 L551.5,1127.8 L565,1125.3 Z" fill="#000"/>
<path d="M532.4,688.0 L537.4,688.0 L534.9,701.5 Z" fill="#000"/>
<polyline points="549.1,706.7 614.5,706.7 614.5,745.3" fill="none" stroke="#5a5a5a" stroke-width="1.1"/>
<path d="M612.0,732.0 L617.0,732.0 L614.5,745.5 Z" fill="#000"/>
<line x1="565.2" y1="745.8" x2="614.5" y2="745.8" stroke="#8a8a8a" stroke-width="1.2"/>
<line x1="565.2" y1="755.0" x2="614.5" y2="755.0" stroke="#8a8a8a" stroke-width="1.2"/>
<circle cx="565.2" cy="750.4" r="4.6" fill="#fff" stroke="#444" stroke-width="1"/>
<circle cx="614.5" cy="750.4" r="4.6" fill="#fff" stroke="#444" stroke-width="1"/>
<g transform="translate(585.60,730.50) scale(1.1250,1.1500)" fill="none" stroke="#606060" stroke-width="0.85" vector-effect="non-scaling-stroke" stroke-linecap="butt" stroke-linejoin="round"><path transform="translate(0.00,0)" d="M3.7,0.7 Q3,0 2,0 Q0,0 0,4 L0,7.5 Q0,10 2,10 Q4,10 4,7.3 Q4,4.6 2,4.6 Q0.4,4.6 0,6"/><path transform="translate(4.90,0)" d="M2.7,0.2 L2.5,10 M4.5,0.2 L4.3,10 M1.5,3.4 L5.5,3.4 M1.5,6.6 L5.5,6.6"/></g>
<polyline points="560.5,750.4 560.5,795.4" fill="none" stroke="#5a5a5a" stroke-width="1.1"/>
<path d="M557.9,782.5 L562.9,782.5 L560.4,796 Z" fill="#000"/>
<line x1="560.4" y1="796.3" x2="530.4" y2="814.8" stroke="#222" stroke-width="0.75"/>
<line x1="560.4" y1="796.3" x2="536.4" y2="814.8" stroke="#222" stroke-width="0.75"/>
<line x1="560.4" y1="796.3" x2="541.1" y2="814.8" stroke="#222" stroke-width="0.75"/>
<line x1="560.4" y1="796.3" x2="546.3" y2="814.8" stroke="#222" stroke-width="0.75"/>
<line x1="560.4" y1="796.3" x2="550.0" y2="814.8" stroke="#222" stroke-width="0.75"/>
<line x1="560.4" y1="796.3" x2="553.2" y2="814.8" stroke="#222" stroke-width="0.75"/>
<line x1="560.4" y1="796.3" x2="556.5" y2="814.8" stroke="#222" stroke-width="0.75"/>
<line x1="560.4" y1="796.3" x2="560.3" y2="814.8" stroke="#222" stroke-width="0.75"/>
<line x1="560.4" y1="796.3" x2="564.0" y2="814.8" stroke="#222" stroke-width="0.75"/>
<line x1="560.4" y1="796.3" x2="567.3" y2="814.8" stroke="#222" stroke-width="0.75"/>
<line x1="560.4" y1="796.3" x2="571.0" y2="814.8" stroke="#222" stroke-width="0.75"/>
<line x1="560.4" y1="796.3" x2="575.2" y2="814.8" stroke="#222" stroke-width="0.75"/>
<line x1="560.4" y1="796.3" x2="579.9" y2="814.8" stroke="#222" stroke-width="0.75"/>
<line x1="560.4" y1="796.3" x2="584.1" y2="814.8" stroke="#222" stroke-width="0.75"/>
<line x1="560.4" y1="796.3" x2="590.3" y2="814.8" stroke="#222" stroke-width="0.75"/>
<rect x="524.5" y="816.1" width="71.1" height="15.8" fill="none" stroke="#000" stroke-width="2.6"/>
<polyline points="546.3,833 546.3,847.7" fill="none" stroke="#5a5a5a" stroke-width="1.1"/>
<polyline points="570.4,833 570.4,847.7" fill="none" stroke="#5a5a5a" stroke-width="1.1"/>
<line x1="545.9" y1="847.5" x2="596" y2="847.5" stroke="#8a8a8a" stroke-width="1.2"/>
<line x1="545.9" y1="856.7" x2="596" y2="856.7" stroke="#8a8a8a" stroke-width="1.2"/>
<circle cx="545.9" cy="852.1" r="4.6" fill="#fff" stroke="#444" stroke-width="1"/>
<circle cx="596" cy="852.1" r="4.6" fill="#fff" stroke="#444" stroke-width="1"/>
<line x1="605.4" y1="847.5" x2="654.5" y2="847.5" stroke="#8a8a8a" stroke-width="1.2"/>
<line x1="605.4" y1="856.7" x2="654.5" y2="856.7" stroke="#8a8a8a" stroke-width="1.2"/>
<circle cx="605.4" cy="852.1" r="4.6" fill="#fff" stroke="#444" stroke-width="1"/>
<circle cx="654.5" cy="852.1" r="4.6" fill="#fff" stroke="#444" stroke-width="1"/>
<g transform="translate(565.70,858.50) scale(1.1827,1.0500)" fill="none" stroke="#606060" stroke-width="0.85" vector-effect="non-scaling-stroke" stroke-linecap="butt" stroke-linejoin="round"><path transform="translate(0.00,0)" d="M0,0 L4,0 L1.4,10"/><path transform="translate(4.90,0)" d="M2.7,0.2 L2.5,10 M4.5,0.2 L4.3,10 M1.5,3.4 L5.5,3.4 M1.5,6.6 L5.5,6.6"/></g>
<g transform="translate(628.00,833.50) scale(1.1827,1.1000)" fill="none" stroke="#606060" stroke-width="0.85" vector-effect="non-scaling-stroke" stroke-linecap="butt" stroke-linejoin="round"><path transform="translate(0.00,0)" d="M2,4.8 Q0.2,4.8 0.2,2.4 Q0.2,0 2,0 Q3.8,0 3.8,2.4 Q3.8,4.8 2,4.8 Q0,4.8 0,7.4 Q0,10 2,10 Q4,10 4,7.4 Q4,4.8 2,4.8 Z"/><path transform="translate(4.90,0)" d="M2.7,0.2 L2.5,10 M4.5,0.2 L4.3,10 M1.5,3.4 L5.5,3.4 M1.5,6.6 L5.5,6.6"/></g>
<polyline points="659,852.1 659,871" fill="none" stroke="#5a5a5a" stroke-width="1.1"/>
<polyline points="619.5,884.4 619.5,871 686,871 686,884.4" fill="none" stroke="#5a5a5a" stroke-width="1.1"/>
<line x1="569.8" y1="884.7" x2="619" y2="884.7" stroke="#8a8a8a" stroke-width="1.2"/>
<line x1="569.8" y1="893.9" x2="619" y2="893.9" stroke="#8a8a8a" stroke-width="1.2"/>
<circle cx="569.8" cy="889.3" r="4.6" fill="#fff" stroke="#444" stroke-width="1"/>
<circle cx="619" cy="889.3" r="4.6" fill="#fff" stroke="#444" stroke-width="1"/>
<line x1="686" y1="884.7" x2="734.9" y2="884.7" stroke="#8a8a8a" stroke-width="1.2"/>
<line x1="686" y1="893.9" x2="734.9" y2="893.9" stroke="#8a8a8a" stroke-width="1.2"/>
<circle cx="686" cy="889.3" r="4.6" fill="#fff" stroke="#444" stroke-width="1"/>
<circle cx="734.9" cy="889.3" r="4.6" fill="#fff" stroke="#444" stroke-width="1"/>
<g transform="translate(591.30,897.00) scale(1.1778,1.0700)" fill="none" stroke="#606060" stroke-width="0.85" vector-effect="non-scaling-stroke" stroke-linecap="butt" stroke-linejoin="round"><path transform="translate(0.00,0)" d="M0,2 L1.9,0 L1.9,10"/><path transform="translate(3.10,0)" d="M1.2,0 L2.8,0 Q4,0 4,2 L4,8 Q4,10 2.8,10 L1.2,10 Q0,10 0,8 L0,2 Q0,0 1.2,0 Z"/><path transform="translate(8.00,0)" d="M2.7,0.2 L2.5,10 M4.5,0.2 L4.3,10 M1.5,3.4 L5.5,3.4 M1.5,6.6 L5.5,6.6"/></g>
<g transform="translate(707.50,897.00) scale(1.0577,1.0700)" fill="none" stroke="#606060" stroke-width="0.85" vector-effect="non-scaling-stroke" stroke-linecap="butt" stroke-linejoin="round"><path transform="translate(0.00,0)" d="M0.3,9.3 Q1,10 2,10 Q4,10 4,6 L4,2.5 Q4,0 2,0 Q0,0 0,2.7 Q0,5.4 2,5.4 Q3.6,5.4 4,4"/><path transform="translate(4.90,0)" d="M2.7,0.2 L2.5,10 M4.5,0.2 L4.3,10 M1.5,3.4 L5.5,3.4 M1.5,6.6 L5.5,6.6"/></g>
<polyline points="565.2,889.3 565.2,923.6" fill="none" stroke="#5a5a5a" stroke-width="1.1"/>
<path d="M562.7,910.5 L567.7,910.5 L565.2,924 Z" fill="#000"/>
<polyline points="739.5,889.3 739.5,923.6" fill="none" stroke="#5a5a5a" stroke-width="1.1"/>
<path d="M737.0,910.5 L742.0,910.5 L739.5,924 Z" fill="#000"/>
<polyline points="554.3,1010 554.3,1049" fill="none" stroke="#5a5a5a" stroke-width="1.1"/>
<path d="M551.8,1035.7 L556.8,1035.7 L554.3,1049.2 Z" fill="#000"/>
<polyline points="739.3,1010 739.3,1069.5" fill="none" stroke="#5a5a5a" stroke-width="1.1"/>
<path d="M736.8,1056.1 L741.8,1056.1 L739.3,1069.6 Z" fill="#000"/>
<line x1="367.7" y1="1049.6" x2="616.7" y2="1049.6" stroke="#8a8a8a" stroke-width="1.2"/>
<line x1="367.7" y1="1058.8" x2="616.7" y2="1058.8" stroke="#8a8a8a" stroke-width="1.2"/>
<circle cx="367.7" cy="1054.2" r="4.6" fill="#fff" stroke="#444" stroke-width="1"/>
<circle cx="616.7" cy="1054.2" r="4.6" fill="#fff" stroke="#444" stroke-width="1"/>
<g transform="translate(494.00,1035.50) scale(1.2370,1.1200)" fill="none" stroke="#606060" stroke-width="0.85" vector-effect="non-scaling-stroke" stroke-linecap="butt" stroke-linejoin="round"><path transform="translate(0.00,0)" d="M0,2 L1.9,0 L1.9,10"/><path transform="translate(3.10,0)" d="M0,2.2 Q0.3,0 2,0 Q4,0 4,2.5 Q4,4.2 2.6,5.8 L0,10 L4.1,10"/><path transform="translate(8.00,0)" d="M2.7,0.2 L2.5,10 M4.5,0.2 L4.3,10 M1.5,3.4 L5.5,3.4 M1.5,6.6 L5.5,6.6"/></g>
<line x1="490" y1="1069.8" x2="739" y2="1069.8" stroke="#8a8a8a" stroke-width="1.2"/>
<line x1="490" y1="1079.0" x2="739" y2="1079.0" stroke="#8a8a8a" stroke-width="1.2"/>
<circle cx="490" cy="1074.4" r="4.6" fill="#fff" stroke="#444" stroke-width="1"/>
<circle cx="739" cy="1074.4" r="4.6" fill="#fff" stroke="#444" stroke-width="1"/>
<g transform="translate(694.00,1057.00) scale(1.2222,1.0300)" fill="none" stroke="#606060" stroke-width="0.85" vector-effect="non-scaling-stroke" stroke-linecap="butt" stroke-linejoin="round"><path transform="translate(0.00,0)" d="M0,2 L1.9,0 L1.9,10"/><path transform="translate(3.10,0)" d="M0,2 L1.9,0 L1.9,10"/><path transform="translate(6.20,0)" d="M2.7,0.2 L2.5,10 M4.5,0.2 L4.3,10 M1.5,3.4 L5.5,3.4 M1.5,6.6 L5.5,6.6"/></g>
<line x1="243.9" y1="1049.6" x2="321.7" y2="1049.6" stroke="#8a8a8a" stroke-width="1.2"/>
<line x1="243.9" y1="1058.8" x2="321.7" y2="1058.8" stroke="#8a8a8a" stroke-width="1.2"/>
<circle cx="243.9" cy="1054.2" r="4.6" fill="#fff" stroke="#444" stroke-width="1"/>
<circle cx="321.7" cy="1054.2" r="4.6" fill="#fff" stroke="#444" stroke-width="1"/>
<g transform="translate(282.80,1034.50) scale(1.1509,1.0500)" fill="none" stroke="#606060" stroke-width="0.85" vector-effect="non-scaling-stroke" stroke-linecap="butt" stroke-linejoin="round"><path transform="translate(0.00,0)" d="M3.2,10 L3.2,0 L0,7 L4.3,7"/><path transform="translate(5.10,0)" d="M2.7,0.2 L2.5,10 M4.5,0.2 L4.3,10 M1.5,3.4 L5.5,3.4 M1.5,6.6 L5.5,6.6"/></g>
<polyline points="239.3,1054.2 231.3,1054.2 231.3,1105" fill="none" stroke="#5a5a5a" stroke-width="1.1"/>
<path d="M228.8,1092.0 L233.8,1092.0 L231.3,1105.5 Z" fill="#000"/>
<polyline points="363.1,1054.2 348.5,1054.2 348.5,1105" fill="none" stroke="#5a5a5a" stroke-width="1.1"/>
<path d="M346.0,1092.0 L351.0,1092.0 L348.5,1105.5 Z" fill="#000"/>
<polyline points="485.4,1074.4 485.4,1114" fill="none" stroke="#5a5a5a" stroke-width="1.1"/>
<path d="M482.9,1100.5 L487.9,1100.5 L485.4,1114 Z" fill="#000"/>
<polyline points="290.3,1125.6 322.8,1125.6" fill="none" stroke="#5a5a5a" stroke-width="1.1"/>
<polyline points="290.3,1133.9 322.8,1133.9" fill="none" stroke="#5a5a5a" stroke-width="1.1"/>
<polyline points="290.3,1150.6 322.8,1150.6" fill="none" stroke="#5a5a5a" stroke-width="1.1"/>
<polyline points="250.3,1166.7 250.3,1190.3 321.7,1190.3 321.7,1221.7" fill="none" stroke="#5a5a5a" stroke-width="1.1"/>
<path d="M319.2,1208.5 L324.2,1208.5 L321.7,1222 Z" fill="#000"/>
<polyline points="336.7,1166.7 336.7,1221.7" fill="none" stroke="#5a5a5a" stroke-width="1.1"/>
<path d="M334.2,1208.5 L339.2,1208.5 L336.7,1222 Z" fill="#000"/>
<line x1="278.3" y1="1222.6" x2="305.8" y2="1222.6" stroke="#8a8a8a" stroke-width="1.2"/>
<line x1="278.3" y1="1231.8" x2="305.8" y2="1231.8" stroke="#8a8a8a" stroke-width="1.2"/>
<circle cx="278.3" cy="1227.2" r="4.6" fill="#fff" stroke="#444" stroke-width="1"/>
<circle cx="305.8" cy="1227.2" r="4.6" fill="#fff" stroke="#444" stroke-width="1"/>
<line x1="315.3" y1="1222.6" x2="348.7" y2="1222.6" stroke="#8a8a8a" stroke-width="1.2"/>
<line x1="315.3" y1="1231.8" x2="348.7" y2="1231.8" stroke="#8a8a8a" stroke-width="1.2"/>
<circle cx="315.3" cy="1227.2" r="4.6" fill="#fff" stroke="#444" stroke-width="1"/>
<circle cx="348.7" cy="1227.2" r="4.6" fill="#fff" stroke="#444" stroke-width="1"/>
<g transform="translate(285.30,1238.50) scale(1.1481,1.0700)" fill="none" stroke="#606060" stroke-width="0.85" vector-effect="non-scaling-stroke" stroke-linecap="butt" stroke-linejoin="round"><path transform="translate(0.00,0)" d="M0,2 L1.9,0 L1.9,10"/><path transform="translate(3.10,0)" d="M0.3,9.3 Q1,10 2,10 Q4,10 4,6 L4,2.5 Q4,0 2,0 Q0,0 0,2.7 Q0,5.4 2,5.4 Q3.6,5.4 4,4"/><path transform="translate(8.00,0)" d="M2.7,0.2 L2.5,10 M4.5,0.2 L4.3,10 M1.5,3.4 L5.5,3.4 M1.5,6.6 L5.5,6.6"/></g>
<g transform="translate(328.00,1238.50) scale(1.1704,1.0700)" fill="none" stroke="#606060" stroke-width="0.85" vector-effect="non-scaling-stroke" stroke-linecap="butt" stroke-linejoin="round"><path transform="translate(0.00,0)" d="M0,2 L1.9,0 L1.9,10"/><path transform="translate(3.10,0)" d="M2,4.8 Q0.2,4.8 0.2,2.4 Q0.2,0 2,0 Q3.8,0 3.8,2.4 Q3.8,4.8 2,4.8 Q0,4.8 0,7.4 Q0,10 2,10 Q4,10 4,7.4 Q4,4.8 2,4.8 Z"/><path transform="translate(8.00,0)" d="M2.7,0.2 L2.5,10 M4.5,0.2 L4.3,10 M1.5,3.4 L5.5,3.4 M1.5,6.6 L5.5,6.6"/></g>
<polyline points="273.8,1227.2 273.8,1265" fill="none" stroke="#5a5a5a" stroke-width="1.1"/>
<path d="M271.3,1252.0 L276.3,1252.0 L273.8,1265.5 Z" fill="#000"/>
<polyline points="517.7,1134.2 527.7,1134.2" fill="none" stroke="#5a5a5a" stroke-width="1.1"/>
<line x1="532.3" y1="1129.6" x2="560" y2="1129.6" stroke="#8a8a8a" stroke-width="1.2"/>
<line x1="532.3" y1="1138.8" x2="560" y2="1138.8" stroke="#8a8a8a" stroke-width="1.2"/>
<circle cx="532.3" cy="1134.2" r="4.6" fill="#fff" stroke="#444" stroke-width="1"/>
<circle cx="560" cy="1134.2" r="4.6" fill="#fff" stroke="#444" stroke-width="1"/>
<line x1="569" y1="1129.6" x2="602.3" y2="1129.6" stroke="#8a8a8a" stroke-width="1.2"/>
<line x1="569" y1="1138.8" x2="602.3" y2="1138.8" stroke="#8a8a8a" stroke-width="1.2"/>
<circle cx="569" cy="1134.2" r="4.6" fill="#fff" stroke="#444" stroke-width="1"/>
<circle cx="602.3" cy="1134.2" r="4.6" fill="#fff" stroke="#444" stroke-width="1"/>
<line x1="611.7" y1="1129.6" x2="645" y2="1129.6" stroke="#8a8a8a" stroke-width="1.2"/>
<line x1="611.7" y1="1138.8" x2="645" y2="1138.8" stroke="#8a8a8a" stroke-width="1.2"/>
<circle cx="611.7" cy="1134.2" r="4.6" fill="#fff" stroke="#444" stroke-width="1"/>
<circle cx="645" cy="1134.2" r="4.6" fill="#fff" stroke="#444" stroke-width="1"/>
<g transform="translate(538.30,1142.00) scale(1.2701,1.1300)" fill="none" stroke="#606060" stroke-width="0.85" vector-effect="non-scaling-stroke" stroke-linecap="butt" stroke-linejoin="round"><path transform="translate(0.00,0)" d="M0,2 L1.9,0 L1.9,10"/><path transform="translate(3.10,0)" d="M3.2,10 L3.2,0 L0,7 L4.3,7"/><path transform="translate(8.20,0)" d="M2.7,0.2 L2.5,10 M4.5,0.2 L4.3,10 M1.5,3.4 L5.5,3.4 M1.5,6.6 L5.5,6.6"/></g>
<g transform="translate(579.30,1142.00) scale(1.2370,1.1300)" fill="none" stroke="#606060" stroke-width="0.85" vector-effect="non-scaling-stroke" stroke-linecap="butt" stroke-linejoin="round"><path transform="translate(0.00,0)" d="M0,2 L1.9,0 L1.9,10"/><path transform="translate(3.10,0)" d="M3.9,0 L0.4,0 L0.1,4.6 Q0.8,3.8 2,3.8 Q4,3.8 4,6.8 Q4,10 2,10 Q0.6,10 0,8.8"/><path transform="translate(8.00,0)" d="M2.7,0.2 L2.5,10 M4.5,0.2 L4.3,10 M1.5,3.4 L5.5,3.4 M1.5,6.6 L5.5,6.6"/></g>
<g transform="translate(620.00,1142.00) scale(1.1961,1.1300)" fill="none" stroke="#606060" stroke-width="0.85" vector-effect="non-scaling-stroke" stroke-linecap="butt" stroke-linejoin="round"><path transform="translate(0.00,0)" d="M0,2.2 Q0.3,0 2,0 Q4,0 4,2.5 Q4,4.2 2.6,5.8 L0,10 L4.1,10"/><path transform="translate(4.90,0)" d="M0,1.2 Q0.6,0 2,0 Q4,0 4,2.5 Q4,4.8 1.6,4.8 M1.6,4.8 Q4,4.8 4,7.4 Q4,10 2,10 Q0.6,10 0,8.8"/><path transform="translate(9.80,0)" d="M2.7,0.2 L2.5,10 M4.5,0.2 L4.3,10 M1.5,3.4 L5.5,3.4 M1.5,6.6 L5.5,6.6"/></g>
<polyline points="517.7,1152 531.9,1152 531.9,1187.3" fill="none" stroke="#5a5a5a" stroke-width="1.1"/>
<line x1="532.3" y1="1187.2" x2="560" y2="1187.2" stroke="#8a8a8a" stroke-width="1.2"/>
<line x1="532.3" y1="1196.4" x2="560" y2="1196.4" stroke="#8a8a8a" stroke-width="1.2"/>
<circle cx="532.3" cy="1191.8" r="4.6" fill="#fff" stroke="#444" stroke-width="1"/>
<circle cx="560" cy="1191.8" r="4.6" fill="#fff" stroke="#444" stroke-width="1"/>
<line x1="569" y1="1187.2" x2="602.3" y2="1187.2" stroke="#8a8a8a" stroke-width="1.2"/>
<line x1="569" y1="1196.4" x2="602.3" y2="1196.4" stroke="#8a8a8a" stroke-width="1.2"/>
<circle cx="569" cy="1191.8" r="4.6" fill="#fff" stroke="#444" stroke-width="1"/>
<circle cx="602.3" cy="1191.8" r="4.6" fill="#fff" stroke="#444" stroke-width="1"/>
<line x1="611.7" y1="1187.2" x2="645" y2="1187.2" stroke="#8a8a8a" stroke-width="1.2"/>
<line x1="611.7" y1="1196.4" x2="645" y2="1196.4" stroke="#8a8a8a" stroke-width="1.2"/>
<circle cx="611.7" cy="1191.8" r="4.6" fill="#fff" stroke="#444" stroke-width="1"/>
<circle cx="645" cy="1191.8" r="4.6" fill="#fff" stroke="#444" stroke-width="1"/>
<g transform="translate(538.80,1201.50) scale(1.2370,1.1200)" fill="none" stroke="#606060" stroke-width="0.85" vector-effect="non-scaling-stroke" stroke-linecap="butt" stroke-linejoin="round"><path transform="translate(0.00,0)" d="M0,2 L1.9,0 L1.9,10"/><path transform="translate(3.10,0)" d="M3.7,0.7 Q3,0 2,0 Q0,0 0,4 L0,7.5 Q0,10 2,10 Q4,10 4,7.3 Q4,4.6 2,4.6 Q0.4,4.6 0,6"/><path transform="translate(8.00,0)" d="M2.7,0.2 L2.5,10 M4.5,0.2 L4.3,10 M1.5,3.4 L5.5,3.4 M1.5,6.6 L5.5,6.6"/></g>
<g transform="translate(579.70,1201.50) scale(1.1704,1.1200)" fill="none" stroke="#606060" stroke-width="0.85" vector-effect="non-scaling-stroke" stroke-linecap="butt" stroke-linejoin="round"><path transform="translate(0.00,0)" d="M0,2 L1.9,0 L1.9,10"/><path transform="translate(3.10,0)" d="M0,0 L4,0 L1.4,10"/><path transform="translate(8.00,0)" d="M2.7,0.2 L2.5,10 M4.5,0.2 L4.3,10 M1.5,3.4 L5.5,3.4 M1.5,6.6 L5.5,6.6"/></g>
<g transform="translate(623.00,1201.50) scale(1.1634,1.1200)" fill="none" stroke="#606060" stroke-width="0.85" vector-effect="non-scaling-stroke" stroke-linecap="butt" stroke-linejoin="round"><path transform="translate(0.00,0)" d="M0,2.2 Q0.3,0 2,0 Q4,0 4,2.5 Q4,4.2 2.6,5.8 L0,10 L4.1,10"/><path transform="translate(4.90,0)" d="M0,2.2 Q0.3,0 2,0 Q4,0 4,2.5 Q4,4.2 2.6,5.8 L0,10 L4.1,10"/><path transform="translate(9.80,0)" d="M2.7,0.2 L2.5,10 M4.5,0.2 L4.3,10 M1.5,3.4 L5.5,3.4 M1.5,6.6 L5.5,6.6"/></g>
<polyline points="649.6,1134.2 779.3,1134.2 779.3,1392" fill="none" stroke="#5a5a5a" stroke-width="1.1"/>
<path d="M776.8,1379.0 L781.8,1379.0 L779.3,1392.5 Z" fill="#000"/>
<polyline points="649.6,1191.8 681.8,1191.8 681.8,1392" fill="none" stroke="#5a5a5a" stroke-width="1.1"/>
<path d="M679.3,1379.0 L684.3,1379.0 L681.8,1392.5 Z" fill="#000"/>
<polyline points="366.7,1274 400,1274 400,1303.5" fill="none" stroke="#5a5a5a" stroke-width="1.1"/>
<polyline points="366,1303.5 470.4,1303.5" fill="none" stroke="#5a5a5a" stroke-width="1.1"/>
<line x1="475" y1="1298.9" x2="507.7" y2="1298.9" stroke="#8a8a8a" stroke-width="1.2"/>
<line x1="475" y1="1308.1" x2="507.7" y2="1308.1" stroke="#8a8a8a" stroke-width="1.2"/>
<circle cx="475" cy="1303.5" r="4.6" fill="#fff" stroke="#444" stroke-width="1"/>
<circle cx="507.7" cy="1303.5" r="4.6" fill="#fff" stroke="#444" stroke-width="1"/>
<line x1="517.1" y1="1298.9" x2="550.7" y2="1298.9" stroke="#8a8a8a" stroke-width="1.2"/>
<line x1="517.1" y1="1308.1" x2="550.7" y2="1308.1" stroke="#8a8a8a" stroke-width="1.2"/>
<circle cx="517.1" cy="1303.5" r="4.6" fill="#fff" stroke="#444" stroke-width="1"/>
<circle cx="550.7" cy="1303.5" r="4.6" fill="#fff" stroke="#444" stroke-width="1"/>
<g transform="translate(485.00,1285.50) scale(1.1569,1.1200)" fill="none" stroke="#606060" stroke-width="0.85" vector-effect="non-scaling-stroke" stroke-linecap="butt" stroke-linejoin="round"><path transform="translate(0.00,0)" d="M0,2.2 Q0.3,0 2,0 Q4,0 4,2.5 Q4,4.2 2.6,5.8 L0,10 L4.1,10"/><path transform="translate(4.90,0)" d="M1.2,0 L2.8,0 Q4,0 4,2 L4,8 Q4,10 2.8,10 L1.2,10 Q0,10 0,8 L0,2 Q0,0 1.2,0 Z"/><path transform="translate(9.80,0)" d="M2.7,0.2 L2.5,10 M4.5,0.2 L4.3,10 M1.5,3.4 L5.5,3.4 M1.5,6.6 L5.5,6.6"/></g>
<g transform="translate(529.20,1284.60) scale(1.1742,1.1000)" fill="none" stroke="#606060" stroke-width="0.85" vector-effect="non-scaling-stroke" stroke-linecap="butt" stroke-linejoin="round"><path transform="translate(0.00,0)" d="M0,2.2 Q0.3,0 2,0 Q4,0 4,2.5 Q4,4.2 2.6,5.8 L0,10 L4.1,10"/><path transform="translate(4.90,0)" d="M3.2,10 L3.2,0 L0,7 L4.3,7"/><path transform="translate(10.00,0)" d="M2.7,0.2 L2.5,10 M4.5,0.2 L4.3,10 M1.5,3.4 L5.5,3.4 M1.5,6.6 L5.5,6.6"/></g>
<polyline points="555.3,1303.5 590.5,1303.5 590.5,1392" fill="none" stroke="#5a5a5a" stroke-width="1.1"/>
<path d="M588.0,1379.0 L593.0,1379.0 L590.5,1392.5 Z" fill="#000"/>
<polyline points="307.3,1316 307.3,1352.7" fill="none" stroke="#5a5a5a" stroke-width="1.1"/>
<path d="M304.8,1339.5 L309.8,1339.5 L307.3,1353 Z" fill="#000"/>
<polyline points="356,1316 356,1352.7" fill="none" stroke="#5a5a5a" stroke-width="1.1"/>
<path d="M353.5,1339.5 L358.5,1339.5 L356,1353 Z" fill="#000"/>
<line x1="304" y1="1353.7" x2="378.3" y2="1353.7" stroke="#8a8a8a" stroke-width="1.2"/>
<line x1="304" y1="1362.9" x2="378.3" y2="1362.9" stroke="#8a8a8a" stroke-width="1.2"/>
<circle cx="304" cy="1358.3" r="4.6" fill="#fff" stroke="#444" stroke-width="1"/>
<circle cx="378.3" cy="1358.3" r="4.6" fill="#fff" stroke="#444" stroke-width="1"/>
<line x1="387.7" y1="1353.7" x2="426.7" y2="1353.7" stroke="#8a8a8a" stroke-width="1.2"/>
<line x1="387.7" y1="1362.9" x2="426.7" y2="1362.9" stroke="#8a8a8a" stroke-width="1.2"/>
<circle cx="387.7" cy="1358.3" r="4.6" fill="#fff" stroke="#444" stroke-width="1"/>
<circle cx="426.7" cy="1358.3" r="4.6" fill="#fff" stroke="#444" stroke-width="1"/>
<g transform="translate(331.70,1367.00) scale(1.2296,1.0300)" fill="none" stroke="#606060" stroke-width="0.85" vector-effect="non-scaling-stroke" stroke-linecap="butt" stroke-linejoin="round"><path transform="translate(0.00,0)" d="M0,2.2 Q0.3,0 2,0 Q4,0 4,2.5 Q4,4.2 2.6,5.8 L0,10 L4.1,10"/><path transform="translate(4.90,0)" d="M0,2 L1.9,0 L1.9,10"/><path transform="translate(8.00,0)" d="M2.7,0.2 L2.5,10 M4.5,0.2 L4.3,10 M1.5,3.4 L5.5,3.4 M1.5,6.6 L5.5,6.6"/></g>
<g transform="translate(400.70,1367.00) scale(1.2157,1.0300)" fill="none" stroke="#606060" stroke-width="0.85" vector-effect="non-scaling-stroke" stroke-linecap="butt" stroke-linejoin="round"><path transform="translate(0.00,0)" d="M0,2.2 Q0.3,0 2,0 Q4,0 4,2.5 Q4,4.2 2.6,5.8 L0,10 L4.1,10"/><path transform="translate(4.90,0)" d="M3.9,0 L0.4,0 L0.1,4.6 Q0.8,3.8 2,3.8 Q4,3.8 4,6.8 Q4,10 2,10 Q0.6,10 0,8.8"/><path transform="translate(9.80,0)" d="M2.7,0.2 L2.5,10 M4.5,0.2 L4.3,10 M1.5,3.4 L5.5,3.4 M1.5,6.6 L5.5,6.6"/></g>
<polyline points="431.3,1358.3 476,1358.3 476,1392" fill="none" stroke="#5a5a5a" stroke-width="1.1"/>
<path d="M473.5,1379.0 L478.5,1379.0 L476,1392.5 Z" fill="#000"/>
<line x1="825.3" y1="679.8" x2="825.3" y2="693.9" stroke="#3a3a3a" stroke-width="1.3"/>
<line x1="825.3" y1="697.3" x2="825.3" y2="710.6" stroke="#3a3a3a" stroke-width="1.3"/>
<line x1="825.3" y1="716" x2="825.3" y2="747.9" stroke="#3a3a3a" stroke-width="1.3"/>
<line x1="825.3" y1="1011.7" x2="825.3" y2="1030" stroke="#3a3a3a" stroke-width="1.3"/>
<line x1="681.8" y1="1239.8" x2="681.8" y2="1257.7" stroke="#3a3a3a" stroke-width="1.3"/>
<line x1="779.3" y1="1239.8" x2="779.3" y2="1257.7" stroke="#3a3a3a" stroke-width="1.3"/>
<line x1="301.5" y1="403.7" x2="301.5" y2="418.2" stroke="#3a3a3a" stroke-width="1.3"/>
<line x1="317.2" y1="1012" x2="317.2" y2="1022" stroke="#3a3a3a" stroke-width="1.3"/>
<path d="M825.3,701.8 L827.3,701.8" stroke="#444" stroke-width="1"/>
<rect x="428.9" y="1429.3" width="388.9" height="4.7" fill="url(#hatch)"/><line x1="428.9" y1="1428.9" x2="817.8" y2="1428.9" stroke="#555" stroke-width="1"/>
<path d="M476,1394.4 L449.60,1414.02 Q445.40,1417.30 449.00,1421.06 A30.00,10.0 0 0 0 503.00,1421.06 Q506.60,1417.30 502.40,1414.02 Z" fill="url(#cone)"/>
<path d="M591.7,1394.4 L565.30,1414.02 Q561.10,1417.30 564.70,1421.06 A30.00,10.0 0 0 0 618.70,1421.06 Q622.30,1417.30 618.10,1414.02 Z" fill="url(#cone)"/>
<path d="M682.6,1394.4 L656.20,1414.02 Q652.00,1417.30 655.60,1421.06 A30.00,10.0 0 0 0 709.60,1421.06 Q713.20,1417.30 709.00,1414.02 Z" fill="url(#cone)"/>
<path d="M777.5,1394.4 L751.10,1414.02 Q746.90,1417.30 750.50,1421.06 A30.00,10.0 0 0 0 804.50,1421.06 Q808.10,1417.30 803.90,1414.02 Z" fill="url(#cone)"/>
<g transform="translate(459.00,1438.00) scale(1.2403,0.9800)" fill="none" stroke="#606060" stroke-width="0.85" vector-effect="non-scaling-stroke" stroke-linecap="butt" stroke-linejoin="round"><path transform="translate(0.00,0)" d="M1.2,0 L2.8,0 Q4,0 4,2 L4,8 Q4,10 2.8,10 L1.2,10 Q0,10 0,8 L0,2 Q0,0 1.2,0 Z"/><path transform="translate(4.90,0)" d="M0,6.3 L3,6.3"/><path transform="translate(8.80,0)" d="M3.9,0 L0.4,0 L0.1,4.6 Q0.8,3.8 2,3.8 Q4,3.8 4,6.8 Q4,10 2,10 Q0.6,10 0,8.8"/><path transform="translate(13.70,0)" d="M0,10 L0,3.4 M0,4.6 Q0.6,3.4 1.6,3.4 Q2.8,3.4 2.8,4.8 L2.8,10 M2.8,4.8 Q3.4,3.4 4.4,3.4 Q5.6,3.4 5.6,4.8 L5.6,10"/><path transform="translate(20.20,0)" d="M0,10 L0,3.4 M0,4.6 Q0.6,3.4 1.6,3.4 Q2.8,3.4 2.8,4.8 L2.8,10 M2.8,4.8 Q3.4,3.4 4.4,3.4 Q5.6,3.4 5.6,4.8 L5.6,10"/></g>
<g transform="translate(578.70,1438.00) scale(1.2284,0.9800)" fill="none" stroke="#606060" stroke-width="0.85" vector-effect="non-scaling-stroke" stroke-linecap="butt" stroke-linejoin="round"><path transform="translate(0.00,0)" d="M3.9,0 L0.4,0 L0.1,4.6 Q0.8,3.8 2,3.8 Q4,3.8 4,6.8 Q4,10 2,10 Q0.6,10 0,8.8"/><path transform="translate(4.90,0)" d="M0,6.3 L3,6.3"/><path transform="translate(8.80,0)" d="M0,2 L1.9,0 L1.9,10"/><path transform="translate(11.90,0)" d="M1.2,0 L2.8,0 Q4,0 4,2 L4,8 Q4,10 2.8,10 L1.2,10 Q0,10 0,8 L0,2 Q0,0 1.2,0 Z"/><path transform="translate(16.80,0)" d="M0,10 L0,3.4 M0,4.6 Q0.6,3.4 1.6,3.4 Q2.8,3.4 2.8,4.8 L2.8,10 M2.8,4.8 Q3.4,3.4 4.4,3.4 Q5.6,3.4 5.6,4.8 L5.6,10"/><path transform="translate(23.30,0)" d="M0,10 L0,3.4 M0,4.6 Q0.6,3.4 1.6,3.4 Q2.8,3.4 2.8,4.8 L2.8,10 M2.8,4.8 Q3.4,3.4 4.4,3.4 Q5.6,3.4 5.6,4.8 L5.6,10"/></g>
<g transform="translate(663.60,1438.00) scale(1.2071,0.9800)" fill="none" stroke="#606060" stroke-width="0.85" vector-effect="non-scaling-stroke" stroke-linecap="butt" stroke-linejoin="round"><path transform="translate(0.00,0)" d="M0,2 L1.9,0 L1.9,10"/><path transform="translate(3.10,0)" d="M1.2,0 L2.8,0 Q4,0 4,2 L4,8 Q4,10 2.8,10 L1.2,10 Q0,10 0,8 L0,2 Q0,0 1.2,0 Z"/><path transform="translate(8.00,0)" d="M0,6.3 L3,6.3"/><path transform="translate(11.90,0)" d="M0,2.2 Q0.3,0 2,0 Q4,0 4,2.5 Q4,4.2 2.6,5.8 L0,10 L4.1,10"/><path transform="translate(16.80,0)" d="M3.9,0 L0.4,0 L0.1,4.6 Q0.8,3.8 2,3.8 Q4,3.8 4,6.8 Q4,10 2,10 Q0.6,10 0,8.8"/><path transform="translate(21.70,0)" d="M0,10 L0,3.4 M0,4.6 Q0.6,3.4 1.6,3.4 Q2.8,3.4 2.8,4.8 L2.8,10 M2.8,4.8 Q3.4,3.4 4.4,3.4 Q5.6,3.4 5.6,4.8 L5.6,10"/><path transform="translate(28.20,0)" d="M0,10 L0,3.4 M0,4.6 Q0.6,3.4 1.6,3.4 Q2.8,3.4 2.8,4.8 L2.8,10 M2.8,4.8 Q3.4,3.4 4.4,3.4 Q5.6,3.4 5.6,4.8 L5.6,10"/></g>
<g transform="translate(752.40,1438.00) scale(1.2104,0.9800)" fill="none" stroke="#606060" stroke-width="0.85" vector-effect="non-scaling-stroke" stroke-linecap="butt" stroke-linejoin="round"><path transform="translate(0.00,0)" d="M0,2.2 Q0.3,0 2,0 Q4,0 4,2.5 Q4,4.2 2.6,5.8 L0,10 L4.1,10"/><path transform="translate(4.90,0)" d="M3.9,0 L0.4,0 L0.1,4.6 Q0.8,3.8 2,3.8 Q4,3.8 4,6.8 Q4,10 2,10 Q0.6,10 0,8.8"/><path transform="translate(9.80,0)" d="M0,6.3 L3,6.3"/><path transform="translate(13.70,0)" d="M0,1.2 Q0.6,0 2,0 Q4,0 4,2.5 Q4,4.8 1.6,4.8 M1.6,4.8 Q4,4.8 4,7.4 Q4,10 2,10 Q0.6,10 0,8.8"/><path transform="translate(18.60,0)" d="M0,2 L1.9,0 L1.9,10"/><path transform="translate(21.70,0)" d="M0.4,9.2 L0.4,10"/><path transform="translate(23.40,0)" d="M3.9,0 L0.4,0 L0.1,4.6 Q0.8,3.8 2,3.8 Q4,3.8 4,6.8 Q4,10 2,10 Q0.6,10 0,8.8"/><path transform="translate(28.30,0)" d="M0,10 L0,3.4 M0,4.6 Q0.6,3.4 1.6,3.4 Q2.8,3.4 2.8,4.8 L2.8,10 M2.8,4.8 Q3.4,3.4 4.4,3.4 Q5.6,3.4 5.6,4.8 L5.6,10"/><path transform="translate(34.80,0)" d="M0,10 L0,3.4 M0,4.6 Q0.6,3.4 1.6,3.4 Q2.8,3.4 2.8,4.8 L2.8,10 M2.8,4.8 Q3.4,3.4 4.4,3.4 Q5.6,3.4 5.6,4.8 L5.6,10"/></g>
</svg>
</body></html>
